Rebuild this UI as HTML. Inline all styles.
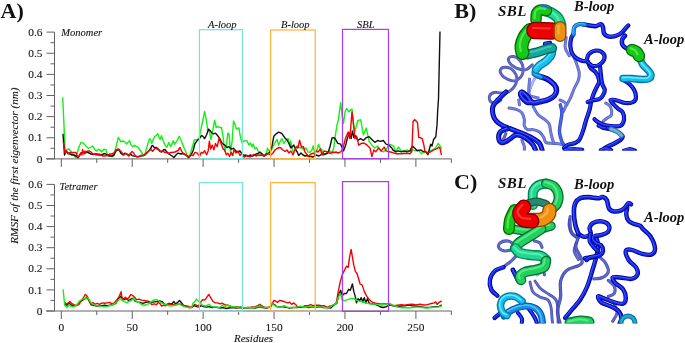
<!DOCTYPE html>
<html><head><meta charset="utf-8"><style>
html,body{margin:0;padding:0;background:#fff;width:685px;height:343px;overflow:hidden}
svg{display:block;will-change:transform}
</style></head><body>
<svg width="685" height="343" viewBox="0 0 685 343">
<rect width="685" height="343" fill="#fff"/>
<defs><clipPath id="clipB"><rect x="470" y="0" width="215" height="150.5"/></clipPath><clipPath id="clipC"><rect x="470" y="170" width="215" height="153.6"/></clipPath></defs><g clip-path="url(#clipB)"><g fill="none" stroke-linecap="round" stroke-linejoin="round" opacity="0.9"><path d="M532.3,64.8 C531.3,65.6 528.4,68.7 526.5,69.5 C524.6,70.3 522.7,69.9 520.7,69.5 C518.8,69.1 516.5,68.2 514.8,67.2 C513.0,66.2 511.3,65.1 510.2,63.7 C509.1,62.3 508.2,60.2 508.4,59.0 C508.6,57.8 510.0,57.0 511.3,56.7 C512.6,56.4 514.5,56.5 516.0,57.2 C517.5,57.9 519.0,59.4 520.1,60.7 C521.2,62.0 521.9,63.3 522.4,64.8 C522.9,66.3 523.0,67.9 523.0,69.5 C523.0,71.1 523.0,72.8 522.4,74.2 C521.8,75.7 520.6,77.1 519.5,78.2 C518.4,79.3 517.4,80.2 516.0,80.6 C514.6,81.0 512.9,80.9 511.3,80.6 C509.8,80.3 508.1,79.6 506.7,78.8 C505.2,78.0 503.7,77.1 502.6,75.9 C501.5,74.7 500.4,73.1 500.2,71.8 C500.0,70.5 500.5,69.1 501.4,68.3 C502.3,67.5 504.0,67.2 505.5,67.2 C507.0,67.2 508.8,67.5 510.2,68.3 C511.6,69.1 513.1,70.4 514.2,71.8 C515.3,73.2 516.2,74.9 516.6,76.5 C517.0,78.1 516.9,79.7 516.6,81.2 C516.3,82.8 515.6,84.5 514.8,85.8 C514.0,87.1 513.2,88.2 511.9,89.3 C510.6,90.4 508.8,91.9 507.0,92.5 C505.2,93.1 503.2,93.0 501.0,93.0 C498.8,93.0 495.9,92.0 494.0,92.5 C492.1,93.0 490.2,94.5 489.6,96.0 C489.0,97.5 489.4,100.3 490.5,101.5 C491.6,102.7 494.2,103.2 496.0,103.0 C497.8,102.8 500.2,100.5 501.0,100.0" stroke="#343ca6" stroke-width="2.9"/><path d="M532.3,64.8 C531.3,65.6 528.4,68.7 526.5,69.5 C524.6,70.3 522.7,69.9 520.7,69.5 C518.8,69.1 516.5,68.2 514.8,67.2 C513.0,66.2 511.3,65.1 510.2,63.7 C509.1,62.3 508.2,60.2 508.4,59.0 C508.6,57.8 510.0,57.0 511.3,56.7 C512.6,56.4 514.5,56.5 516.0,57.2 C517.5,57.9 519.0,59.4 520.1,60.7 C521.2,62.0 521.9,63.3 522.4,64.8 C522.9,66.3 523.0,67.9 523.0,69.5 C523.0,71.1 523.0,72.8 522.4,74.2 C521.8,75.7 520.6,77.1 519.5,78.2 C518.4,79.3 517.4,80.2 516.0,80.6 C514.6,81.0 512.9,80.9 511.3,80.6 C509.8,80.3 508.1,79.6 506.7,78.8 C505.2,78.0 503.7,77.1 502.6,75.9 C501.5,74.7 500.4,73.1 500.2,71.8 C500.0,70.5 500.5,69.1 501.4,68.3 C502.3,67.5 504.0,67.2 505.5,67.2 C507.0,67.2 508.8,67.5 510.2,68.3 C511.6,69.1 513.1,70.4 514.2,71.8 C515.3,73.2 516.2,74.9 516.6,76.5 C517.0,78.1 516.9,79.7 516.6,81.2 C516.3,82.8 515.6,84.5 514.8,85.8 C514.0,87.1 513.2,88.2 511.9,89.3 C510.6,90.4 508.8,91.9 507.0,92.5 C505.2,93.1 503.2,93.0 501.0,93.0 C498.8,93.0 495.9,92.0 494.0,92.5 C492.1,93.0 490.2,94.5 489.6,96.0 C489.0,97.5 489.4,100.3 490.5,101.5 C491.6,102.7 494.2,103.2 496.0,103.0 C497.8,102.8 500.2,100.5 501.0,100.0" stroke="#525cc6" stroke-width="1.6"/></g>
<g fill="none" stroke-linecap="round" stroke-linejoin="round"><path d="M535.0,78.0 C534.5,79.0 533.0,81.7 532.0,84.0 C531.0,86.3 529.5,90.7 529.0,92.0" stroke="#8e98e8" stroke-width="2.8"/><path d="M535.0,78.0 C534.5,79.0 533.0,81.7 532.0,84.0 C531.0,86.3 529.5,90.7 529.0,92.0" stroke="#b4bcf4" stroke-width="1.4"/></g>
<g fill="none" stroke-linecap="round" stroke-linejoin="round"><path d="M529.6,79.0 C529.5,80.7 528.8,86.5 528.8,89.2 C528.8,91.9 528.6,93.7 529.5,95.0 C530.4,96.3 532.5,96.5 534.0,97.0 C535.5,97.5 537.6,97.8 538.3,97.9" stroke="#5660c8" stroke-width="3.0"/><path d="M529.6,79.0 C529.5,80.7 528.8,86.5 528.8,89.2 C528.8,91.9 528.6,93.7 529.5,95.0 C530.4,96.3 532.5,96.5 534.0,97.0 C535.5,97.5 537.6,97.8 538.3,97.9" stroke="#7a84de" stroke-width="1.5"/></g>
<g fill="none" stroke-linecap="round" stroke-linejoin="round"><path d="M509.0,108.0 C510.3,108.3 514.9,108.8 517.0,109.6 C519.1,110.4 520.7,111.2 521.9,112.8 C523.1,114.4 523.9,117.1 524.3,119.2 C524.7,121.3 523.8,123.9 524.3,125.6 C524.8,127.3 526.0,128.9 527.5,129.6 C529.0,130.3 531.1,129.2 533.1,129.6 C535.1,130.0 537.8,130.8 539.5,132.0 C541.2,133.2 542.4,135.2 543.5,136.9 C544.6,138.7 544.4,141.4 545.9,142.5 C547.4,143.6 549.9,143.0 552.3,143.3 C554.7,143.6 558.2,143.7 560.3,144.1 C562.4,144.5 564.2,145.4 565.0,145.7" stroke="#5660c8" stroke-width="3.0"/><path d="M509.0,108.0 C510.3,108.3 514.9,108.8 517.0,109.6 C519.1,110.4 520.7,111.2 521.9,112.8 C523.1,114.4 523.9,117.1 524.3,119.2 C524.7,121.3 523.8,123.9 524.3,125.6 C524.8,127.3 526.0,128.9 527.5,129.6 C529.0,130.3 531.1,129.2 533.1,129.6 C535.1,130.0 537.8,130.8 539.5,132.0 C541.2,133.2 542.4,135.2 543.5,136.9 C544.6,138.7 544.4,141.4 545.9,142.5 C547.4,143.6 549.9,143.0 552.3,143.3 C554.7,143.6 558.2,143.7 560.3,144.1 C562.4,144.5 564.2,145.4 565.0,145.7" stroke="#7a84de" stroke-width="1.5"/></g>
<g fill="none" stroke-linecap="round" stroke-linejoin="round"><path d="M518.7,100.0 L519.5,104.8" stroke="#5660c8" stroke-width="3.0"/><path d="M518.7,100.0 L519.5,104.8" stroke="#7a84de" stroke-width="1.5"/></g>
<g fill="none" stroke-linecap="round" stroke-linejoin="round"><path d="M533.1,106.4 C533.9,107.7 536.0,112.3 537.9,114.4 C539.8,116.5 542.4,117.6 544.3,119.2 C546.2,120.8 548.0,121.9 549.1,124.0 C550.2,126.1 550.2,129.6 550.7,132.0 C551.2,134.4 551.8,136.6 552.3,138.5 C552.8,140.4 553.6,142.5 553.9,143.3" stroke="#5660c8" stroke-width="3.0"/><path d="M533.1,106.4 C533.9,107.7 536.0,112.3 537.9,114.4 C539.8,116.5 542.4,117.6 544.3,119.2 C546.2,120.8 548.0,121.9 549.1,124.0 C550.2,126.1 550.2,129.6 550.7,132.0 C551.2,134.4 551.8,136.6 552.3,138.5 C552.8,140.4 553.6,142.5 553.9,143.3" stroke="#7a84de" stroke-width="1.5"/></g>
<g fill="none" stroke-linecap="round" stroke-linejoin="round"><path d="M521.9,140.1 C522.3,141.2 523.9,144.7 524.3,146.5 C524.7,148.3 524.3,150.2 524.3,151.0" stroke="#5660c8" stroke-width="3.0"/><path d="M521.9,140.1 C522.3,141.2 523.9,144.7 524.3,146.5 C524.7,148.3 524.3,150.2 524.3,151.0" stroke="#7a84de" stroke-width="1.5"/></g>
<g fill="none" stroke-linecap="round" stroke-linejoin="round" opacity="0.9"><path d="M505.8,133.7 L503.4,139.3" stroke="#343ca6" stroke-width="3.1"/><path d="M505.8,133.7 L503.4,139.3" stroke="#525cc6" stroke-width="1.7"/></g>
<g fill="none" stroke-linecap="round" stroke-linejoin="round"><path d="M566.2,37.4 C566.0,39.1 564.7,44.6 565.2,47.7 C565.7,50.8 568.6,54.4 569.3,55.8" stroke="#5660c8" stroke-width="3.0"/><path d="M566.2,37.4 C566.0,39.1 564.7,44.6 565.2,47.7 C565.7,50.8 568.6,54.4 569.3,55.8" stroke="#7a84de" stroke-width="1.5"/></g>
<g fill="none" stroke-linecap="round" stroke-linejoin="round"><path d="M572.6,53.8 C573.2,55.4 575.3,60.1 576.4,63.3 C577.5,66.5 578.9,69.9 579.2,72.7 C579.5,75.5 579.1,77.8 578.3,80.3 C577.5,82.8 575.8,85.1 574.5,87.9 C573.2,90.7 572.0,94.5 570.7,97.3 C569.4,100.1 567.5,103.6 566.9,104.9" stroke="#5660c8" stroke-width="3.0"/><path d="M572.6,53.8 C573.2,55.4 575.3,60.1 576.4,63.3 C577.5,66.5 578.9,69.9 579.2,72.7 C579.5,75.5 579.1,77.8 578.3,80.3 C577.5,82.8 575.8,85.1 574.5,87.9 C573.2,90.7 572.0,94.5 570.7,97.3 C569.4,100.1 567.5,103.6 566.9,104.9" stroke="#7a84de" stroke-width="1.5"/></g>
<g fill="none" stroke-linecap="round" stroke-linejoin="round"><path d="M560.0,100.0 C561.0,100.7 565.5,102.0 566.0,104.0 C566.5,106.0 563.5,110.7 563.0,112.0" stroke="#5660c8" stroke-width="3.0"/><path d="M560.0,100.0 C561.0,100.7 565.5,102.0 566.0,104.0 C566.5,106.0 563.5,110.7 563.0,112.0" stroke="#7a84de" stroke-width="1.5"/></g>
<g fill="none" stroke-linecap="round" stroke-linejoin="round"><path d="M605.7,103.0 C606.5,103.6 609.5,104.8 610.5,106.8 C611.5,108.8 611.9,113.1 611.4,115.0 C610.9,116.9 608.6,117.0 607.3,118.0 C605.9,119.0 604.0,120.5 603.3,121.0" stroke="#5660c8" stroke-width="3.0"/><path d="M605.7,103.0 C606.5,103.6 609.5,104.8 610.5,106.8 C611.5,108.8 611.9,113.1 611.4,115.0 C610.9,116.9 608.6,117.0 607.3,118.0 C605.9,119.0 604.0,120.5 603.3,121.0" stroke="#7a84de" stroke-width="1.5"/></g>
<g fill="none" stroke-linecap="round" stroke-linejoin="round"><path d="M560.3,104.8 C560.6,106.1 561.9,109.6 561.9,112.8 C561.9,116.0 560.7,120.8 560.3,124.0 C559.9,127.2 559.2,129.1 559.5,132.0 C559.8,134.9 561.0,139.4 561.9,141.7 C562.8,144.0 564.5,145.0 565.0,145.7" stroke="#2a40c8" stroke-width="3.4"/><path d="M560.3,104.8 C560.6,106.1 561.9,109.6 561.9,112.8 C561.9,116.0 560.7,120.8 560.3,124.0 C559.9,127.2 559.2,129.1 559.5,132.0 C559.8,134.9 561.0,139.4 561.9,141.7 C562.8,144.0 564.5,145.0 565.0,145.7" stroke="#4a64e8" stroke-width="2.1"/></g>
<g fill="none" stroke-linecap="round" stroke-linejoin="round"><path d="M506.0,92.0 C504.6,93.3 500.0,97.6 497.8,100.0 C495.6,102.4 493.8,104.0 493.0,106.4 C492.2,108.8 492.5,112.0 493.0,114.4 C493.5,116.8 494.6,118.9 496.2,120.8 C497.8,122.7 500.6,124.4 502.6,125.6 C504.6,126.8 505.8,127.0 508.2,128.0 C510.6,128.9 514.2,130.2 517.0,131.3 C519.8,132.4 522.4,133.3 525.1,134.5 C527.8,135.7 530.7,137.0 533.1,138.5 C535.5,140.0 537.9,141.1 539.5,143.3 C541.1,145.6 542.2,150.6 542.7,152.0" stroke="#000096" stroke-width="5.0"/><path d="M506.0,92.0 C504.6,93.3 500.0,97.6 497.8,100.0 C495.6,102.4 493.8,104.0 493.0,106.4 C492.2,108.8 492.5,112.0 493.0,114.4 C493.5,116.8 494.6,118.9 496.2,120.8 C497.8,122.7 500.6,124.4 502.6,125.6 C504.6,126.8 505.8,127.0 508.2,128.0 C510.6,128.9 514.2,130.2 517.0,131.3 C519.8,132.4 522.4,133.3 525.1,134.5 C527.8,135.7 530.7,137.0 533.1,138.5 C535.5,140.0 537.9,141.1 539.5,143.3 C541.1,145.6 542.2,150.6 542.7,152.0" stroke="#1024e4" stroke-width="3.1"/><path d="M506.0,92.0 C504.6,93.3 500.0,97.6 497.8,100.0 C495.6,102.4 493.8,104.0 493.0,106.4 C492.2,108.8 492.5,112.0 493.0,114.4 C493.5,116.8 494.6,118.9 496.2,120.8 C497.8,122.7 500.6,124.4 502.6,125.6 C504.6,126.8 505.8,127.0 508.2,128.0 C510.6,128.9 514.2,130.2 517.0,131.3 C519.8,132.4 522.4,133.3 525.1,134.5 C527.8,135.7 530.7,137.0 533.1,138.5 C535.5,140.0 537.9,141.1 539.5,143.3 C541.1,145.6 542.2,150.6 542.7,152.0" stroke="#5a70ff" stroke-width="1.0" transform="translate(-0.59,-0.69)" opacity="0.8"/></g>
<g fill="none" stroke-linecap="round" stroke-linejoin="round"><path d="M507.4,128.8 C506.3,129.2 502.5,130.0 501.0,131.3 C499.5,132.7 498.6,135.0 498.6,136.9 C498.6,138.8 499.8,141.7 501.0,142.5 C502.2,143.3 504.2,142.4 505.8,141.7 C507.4,141.0 509.0,139.6 510.6,138.5 C512.2,137.4 513.5,135.7 515.4,135.3 C517.3,134.9 519.8,135.3 521.9,136.1 C524.0,136.9 526.4,138.6 528.3,140.1 C530.2,141.6 531.8,142.9 533.1,144.9 C534.4,146.9 535.8,150.8 536.3,152.0" stroke="#000096" stroke-width="5.0"/><path d="M507.4,128.8 C506.3,129.2 502.5,130.0 501.0,131.3 C499.5,132.7 498.6,135.0 498.6,136.9 C498.6,138.8 499.8,141.7 501.0,142.5 C502.2,143.3 504.2,142.4 505.8,141.7 C507.4,141.0 509.0,139.6 510.6,138.5 C512.2,137.4 513.5,135.7 515.4,135.3 C517.3,134.9 519.8,135.3 521.9,136.1 C524.0,136.9 526.4,138.6 528.3,140.1 C530.2,141.6 531.8,142.9 533.1,144.9 C534.4,146.9 535.8,150.8 536.3,152.0" stroke="#1024e4" stroke-width="3.1"/><path d="M507.4,128.8 C506.3,129.2 502.5,130.0 501.0,131.3 C499.5,132.7 498.6,135.0 498.6,136.9 C498.6,138.8 499.8,141.7 501.0,142.5 C502.2,143.3 504.2,142.4 505.8,141.7 C507.4,141.0 509.0,139.6 510.6,138.5 C512.2,137.4 513.5,135.7 515.4,135.3 C517.3,134.9 519.8,135.3 521.9,136.1 C524.0,136.9 526.4,138.6 528.3,140.1 C530.2,141.6 531.8,142.9 533.1,144.9 C534.4,146.9 535.8,150.8 536.3,152.0" stroke="#5a70ff" stroke-width="1.0" transform="translate(-0.59,-0.69)" opacity="0.8"/></g>
<g fill="none" stroke-linecap="round" stroke-linejoin="round"><path d="M538.3,76.0 C539.8,76.5 544.4,77.5 547.1,79.0 C549.8,80.5 552.8,82.9 554.4,84.8 C556.0,86.7 556.5,88.8 556.5,90.6 C556.5,92.4 555.7,94.2 554.4,95.7 C553.1,97.2 550.7,98.4 548.5,99.4 C546.3,100.4 543.6,100.9 541.2,101.5 C538.8,102.1 535.7,103.0 534.0,103.0 C532.3,103.0 532.0,102.5 531.0,101.5 C530.0,100.5 529.1,98.4 528.1,97.2 C527.1,96.0 526.3,95.2 525.2,94.3 C524.1,93.4 522.3,92.0 521.6,92.1 C520.9,92.2 520.4,93.8 520.8,95.0 C521.1,96.2 522.6,98.2 523.7,99.4 C524.8,100.6 525.9,101.8 527.4,102.3 C528.9,102.8 531.6,102.3 532.5,102.3" stroke="#000096" stroke-width="5.5"/><path d="M538.3,76.0 C539.8,76.5 544.4,77.5 547.1,79.0 C549.8,80.5 552.8,82.9 554.4,84.8 C556.0,86.7 556.5,88.8 556.5,90.6 C556.5,92.4 555.7,94.2 554.4,95.7 C553.1,97.2 550.7,98.4 548.5,99.4 C546.3,100.4 543.6,100.9 541.2,101.5 C538.8,102.1 535.7,103.0 534.0,103.0 C532.3,103.0 532.0,102.5 531.0,101.5 C530.0,100.5 529.1,98.4 528.1,97.2 C527.1,96.0 526.3,95.2 525.2,94.3 C524.1,93.4 522.3,92.0 521.6,92.1 C520.9,92.2 520.4,93.8 520.8,95.0 C521.1,96.2 522.6,98.2 523.7,99.4 C524.8,100.6 525.9,101.8 527.4,102.3 C528.9,102.8 531.6,102.3 532.5,102.3" stroke="#1024e4" stroke-width="3.4"/><path d="M538.3,76.0 C539.8,76.5 544.4,77.5 547.1,79.0 C549.8,80.5 552.8,82.9 554.4,84.8 C556.0,86.7 556.5,88.8 556.5,90.6 C556.5,92.4 555.7,94.2 554.4,95.7 C553.1,97.2 550.7,98.4 548.5,99.4 C546.3,100.4 543.6,100.9 541.2,101.5 C538.8,102.1 535.7,103.0 534.0,103.0 C532.3,103.0 532.0,102.5 531.0,101.5 C530.0,100.5 529.1,98.4 528.1,97.2 C527.1,96.0 526.3,95.2 525.2,94.3 C524.1,93.4 522.3,92.0 521.6,92.1 C520.9,92.2 520.4,93.8 520.8,95.0 C521.1,96.2 522.6,98.2 523.7,99.4 C524.8,100.6 525.9,101.8 527.4,102.3 C528.9,102.8 531.6,102.3 532.5,102.3" stroke="#5a70ff" stroke-width="1.1" transform="translate(-0.66,-0.77)" opacity="0.8"/></g>
<g fill="none" stroke-linecap="round" stroke-linejoin="round"><path d="M535.0,69.0 C534.8,69.8 533.5,72.6 534.0,73.8 C534.5,75.0 537.1,75.5 538.3,76.0 C539.5,76.5 540.5,76.8 541.0,77.0" stroke="#0060b0" stroke-width="5.2"/><path d="M535.0,69.0 C534.8,69.8 533.5,72.6 534.0,73.8 C534.5,75.0 537.1,75.5 538.3,76.0 C539.5,76.5 540.5,76.8 541.0,77.0" stroke="#1a90e8" stroke-width="3.2"/><path d="M535.0,69.0 C534.8,69.8 533.5,72.6 534.0,73.8 C534.5,75.0 537.1,75.5 538.3,76.0 C539.5,76.5 540.5,76.8 541.0,77.0" stroke="#70c8ff" stroke-width="1.0" transform="translate(-0.62,-0.73)" opacity="0.8"/></g>
<g fill="none" stroke-linecap="round" stroke-linejoin="round"><path d="M587.7,61.4 C588.2,62.5 589.3,66.3 590.6,68.0 C591.9,69.7 594.0,70.4 595.3,71.8 C596.5,73.2 597.5,74.8 598.1,76.5 C598.7,78.2 599.4,80.3 599.1,82.2 C598.8,84.1 597.2,85.9 596.3,87.9 C595.3,90.0 594.2,92.3 593.4,94.5 C592.6,96.7 591.9,98.5 591.3,101.0 C590.7,103.5 590.4,106.6 589.6,109.6 C588.8,112.6 587.5,115.7 586.4,119.2 C585.3,122.7 584.4,126.9 583.2,130.4 C582.0,133.9 580.7,137.8 579.2,140.0 C577.7,142.2 576.3,142.5 574.4,143.3 C572.5,144.1 569.7,144.1 568.0,144.9 C566.3,145.7 564.7,147.5 564.0,148.0" stroke="#000096" stroke-width="4.2"/><path d="M587.7,61.4 C588.2,62.5 589.3,66.3 590.6,68.0 C591.9,69.7 594.0,70.4 595.3,71.8 C596.5,73.2 597.5,74.8 598.1,76.5 C598.7,78.2 599.4,80.3 599.1,82.2 C598.8,84.1 597.2,85.9 596.3,87.9 C595.3,90.0 594.2,92.3 593.4,94.5 C592.6,96.7 591.9,98.5 591.3,101.0 C590.7,103.5 590.4,106.6 589.6,109.6 C588.8,112.6 587.5,115.7 586.4,119.2 C585.3,122.7 584.4,126.9 583.2,130.4 C582.0,133.9 580.7,137.8 579.2,140.0 C577.7,142.2 576.3,142.5 574.4,143.3 C572.5,144.1 569.7,144.1 568.0,144.9 C566.3,145.7 564.7,147.5 564.0,148.0" stroke="#1024e4" stroke-width="2.6"/><path d="M587.7,61.4 C588.2,62.5 589.3,66.3 590.6,68.0 C591.9,69.7 594.0,70.4 595.3,71.8 C596.5,73.2 597.5,74.8 598.1,76.5 C598.7,78.2 599.4,80.3 599.1,82.2 C598.8,84.1 597.2,85.9 596.3,87.9 C595.3,90.0 594.2,92.3 593.4,94.5 C592.6,96.7 591.9,98.5 591.3,101.0 C590.7,103.5 590.4,106.6 589.6,109.6 C588.8,112.6 587.5,115.7 586.4,119.2 C585.3,122.7 584.4,126.9 583.2,130.4 C582.0,133.9 580.7,137.8 579.2,140.0 C577.7,142.2 576.3,142.5 574.4,143.3 C572.5,144.1 569.7,144.1 568.0,144.9 C566.3,145.7 564.7,147.5 564.0,148.0" stroke="#5a70ff" stroke-width="0.8" transform="translate(-0.50,-0.59)" opacity="0.8"/></g>
<g fill="none" stroke-linecap="round" stroke-linejoin="round"><path d="M600.0,66.0 C600.3,68.8 601.2,79.0 602.0,83.0 C602.8,87.0 604.6,87.7 604.8,89.8 C604.9,91.9 603.8,93.9 602.9,95.5 C602.0,97.1 600.7,98.4 599.1,99.2 C597.5,100.0 595.3,99.7 593.4,100.2 C591.5,100.7 588.7,101.7 587.7,102.0" stroke="#000096" stroke-width="4.2"/><path d="M600.0,66.0 C600.3,68.8 601.2,79.0 602.0,83.0 C602.8,87.0 604.6,87.7 604.8,89.8 C604.9,91.9 603.8,93.9 602.9,95.5 C602.0,97.1 600.7,98.4 599.1,99.2 C597.5,100.0 595.3,99.7 593.4,100.2 C591.5,100.7 588.7,101.7 587.7,102.0" stroke="#1024e4" stroke-width="2.6"/><path d="M600.0,66.0 C600.3,68.8 601.2,79.0 602.0,83.0 C602.8,87.0 604.6,87.7 604.8,89.8 C604.9,91.9 603.8,93.9 602.9,95.5 C602.0,97.1 600.7,98.4 599.1,99.2 C597.5,100.0 595.3,99.7 593.4,100.2 C591.5,100.7 588.7,101.7 587.7,102.0" stroke="#5a70ff" stroke-width="0.8" transform="translate(-0.50,-0.59)" opacity="0.8"/></g>
<g fill="none" stroke-linecap="round" stroke-linejoin="round"><path d="M573.4,34.4 C573.0,35.0 571.8,36.1 571.3,38.0 C570.8,39.9 570.1,43.0 570.3,45.6 C570.5,48.2 571.1,51.6 572.3,53.8 C573.5,56.0 575.2,57.7 577.4,58.9 C579.6,60.1 583.7,61.8 585.6,61.0 C587.5,60.2 587.1,55.8 589.0,54.0 C590.9,52.2 594.4,50.5 596.8,50.5 C599.2,50.5 602.3,52.2 603.5,53.8 C604.7,55.4 604.8,58.0 604.0,59.9 C603.2,61.8 600.8,64.0 598.9,65.0 C597.0,66.0 594.7,66.5 592.8,66.0 C590.9,65.5 588.6,62.7 587.7,62.0" stroke="#000096" stroke-width="4.2"/><path d="M573.4,34.4 C573.0,35.0 571.8,36.1 571.3,38.0 C570.8,39.9 570.1,43.0 570.3,45.6 C570.5,48.2 571.1,51.6 572.3,53.8 C573.5,56.0 575.2,57.7 577.4,58.9 C579.6,60.1 583.7,61.8 585.6,61.0 C587.5,60.2 587.1,55.8 589.0,54.0 C590.9,52.2 594.4,50.5 596.8,50.5 C599.2,50.5 602.3,52.2 603.5,53.8 C604.7,55.4 604.8,58.0 604.0,59.9 C603.2,61.8 600.8,64.0 598.9,65.0 C597.0,66.0 594.7,66.5 592.8,66.0 C590.9,65.5 588.6,62.7 587.7,62.0" stroke="#1024e4" stroke-width="2.6"/><path d="M573.4,34.4 C573.0,35.0 571.8,36.1 571.3,38.0 C570.8,39.9 570.1,43.0 570.3,45.6 C570.5,48.2 571.1,51.6 572.3,53.8 C573.5,56.0 575.2,57.7 577.4,58.9 C579.6,60.1 583.7,61.8 585.6,61.0 C587.5,60.2 587.1,55.8 589.0,54.0 C590.9,52.2 594.4,50.5 596.8,50.5 C599.2,50.5 602.3,52.2 603.5,53.8 C604.7,55.4 604.8,58.0 604.0,59.9 C603.2,61.8 600.8,64.0 598.9,65.0 C597.0,66.0 594.7,66.5 592.8,66.0 C590.9,65.5 588.6,62.7 587.7,62.0" stroke="#5a70ff" stroke-width="0.8" transform="translate(-0.50,-0.59)" opacity="0.8"/></g>
<g fill="none" stroke-linecap="round" stroke-linejoin="round"><path d="M623.7,80.3 C624.7,80.9 627.7,82.4 629.4,84.0 C631.1,85.6 633.0,87.6 634.1,89.8 C635.2,92.0 636.1,95.3 636.0,97.3 C635.9,99.3 634.9,101.0 633.2,102.0 C631.5,103.0 628.5,103.3 625.6,103.0 C622.8,102.7 618.6,100.7 616.1,100.2 C613.6,99.7 611.0,99.6 610.5,100.2 C610.0,100.8 612.0,102.6 613.3,104.0 C614.5,105.4 616.5,107.4 618.0,108.7 C619.5,110.0 621.5,110.2 622.5,112.0 C623.5,113.8 624.4,116.9 624.1,119.2 C623.8,121.5 622.5,124.4 620.9,125.6 C619.3,126.8 616.9,126.4 614.5,126.4 C612.1,126.4 609.2,126.3 606.5,125.6 C603.8,124.9 600.5,123.5 598.5,122.4 C596.5,121.3 595.2,119.7 594.5,119.2" stroke="#000096" stroke-width="4.2"/><path d="M623.7,80.3 C624.7,80.9 627.7,82.4 629.4,84.0 C631.1,85.6 633.0,87.6 634.1,89.8 C635.2,92.0 636.1,95.3 636.0,97.3 C635.9,99.3 634.9,101.0 633.2,102.0 C631.5,103.0 628.5,103.3 625.6,103.0 C622.8,102.7 618.6,100.7 616.1,100.2 C613.6,99.7 611.0,99.6 610.5,100.2 C610.0,100.8 612.0,102.6 613.3,104.0 C614.5,105.4 616.5,107.4 618.0,108.7 C619.5,110.0 621.5,110.2 622.5,112.0 C623.5,113.8 624.4,116.9 624.1,119.2 C623.8,121.5 622.5,124.4 620.9,125.6 C619.3,126.8 616.9,126.4 614.5,126.4 C612.1,126.4 609.2,126.3 606.5,125.6 C603.8,124.9 600.5,123.5 598.5,122.4 C596.5,121.3 595.2,119.7 594.5,119.2" stroke="#1024e4" stroke-width="2.6"/><path d="M623.7,80.3 C624.7,80.9 627.7,82.4 629.4,84.0 C631.1,85.6 633.0,87.6 634.1,89.8 C635.2,92.0 636.1,95.3 636.0,97.3 C635.9,99.3 634.9,101.0 633.2,102.0 C631.5,103.0 628.5,103.3 625.6,103.0 C622.8,102.7 618.6,100.7 616.1,100.2 C613.6,99.7 611.0,99.6 610.5,100.2 C610.0,100.8 612.0,102.6 613.3,104.0 C614.5,105.4 616.5,107.4 618.0,108.7 C619.5,110.0 621.5,110.2 622.5,112.0 C623.5,113.8 624.4,116.9 624.1,119.2 C623.8,121.5 622.5,124.4 620.9,125.6 C619.3,126.8 616.9,126.4 614.5,126.4 C612.1,126.4 609.2,126.3 606.5,125.6 C603.8,124.9 600.5,123.5 598.5,122.4 C596.5,121.3 595.2,119.7 594.5,119.2" stroke="#5a70ff" stroke-width="0.8" transform="translate(-0.50,-0.59)" opacity="0.8"/></g>
<g fill="none" stroke-linecap="round" stroke-linejoin="round"><path d="M598.5,125.6 C599.3,126.0 601.7,127.5 603.3,128.0 C604.9,128.5 607.2,128.4 608.0,128.5" stroke="#000096" stroke-width="4.0"/><path d="M598.5,125.6 C599.3,126.0 601.7,127.5 603.3,128.0 C604.9,128.5 607.2,128.4 608.0,128.5" stroke="#1024e4" stroke-width="2.5"/><path d="M598.5,125.6 C599.3,126.0 601.7,127.5 603.3,128.0 C604.9,128.5 607.2,128.4 608.0,128.5" stroke="#5a70ff" stroke-width="0.8" transform="translate(-0.48,-0.55)" opacity="0.8"/></g>
<g fill="none" stroke-linecap="round" stroke-linejoin="round"><path d="M608.0,128.5 C609.3,128.9 613.6,129.7 616.0,131.0 C618.4,132.3 622.2,134.7 622.5,136.5 C622.8,138.3 619.6,140.3 617.7,141.7 C615.8,143.1 613.4,143.8 611.3,144.9 C609.2,146.0 606.0,147.5 604.9,148.0" stroke="#000096" stroke-width="4.6"/><path d="M608.0,128.5 C609.3,128.9 613.6,129.7 616.0,131.0 C618.4,132.3 622.2,134.7 622.5,136.5 C622.8,138.3 619.6,140.3 617.7,141.7 C615.8,143.1 613.4,143.8 611.3,144.9 C609.2,146.0 606.0,147.5 604.9,148.0" stroke="#1024e4" stroke-width="2.9"/><path d="M608.0,128.5 C609.3,128.9 613.6,129.7 616.0,131.0 C618.4,132.3 622.2,134.7 622.5,136.5 C622.8,138.3 619.6,140.3 617.7,141.7 C615.8,143.1 613.4,143.8 611.3,144.9 C609.2,146.0 606.0,147.5 604.9,148.0" stroke="#5a70ff" stroke-width="0.9" transform="translate(-0.55,-0.65)" opacity="0.8"/></g>
<g fill="none" stroke-linecap="round" stroke-linejoin="round"><path d="M611.0,129.0 C612.0,129.4 615.2,130.4 617.0,131.5 C618.8,132.6 620.8,134.8 621.5,135.5" stroke="#3a70a0" stroke-width="4.8"/><path d="M611.0,129.0 C612.0,129.4 615.2,130.4 617.0,131.5 C618.8,132.6 620.8,134.8 621.5,135.5" stroke="#6ab0d8" stroke-width="3.0"/></g>
<g fill="none" stroke-linecap="round" stroke-linejoin="round"><path d="M565.0,150.0 C566.5,149.9 571.2,149.3 574.0,149.3 C576.8,149.3 580.7,149.9 582.0,150.0" stroke="#000090" stroke-width="4.6"/><path d="M565.0,150.0 C566.5,149.9 571.2,149.3 574.0,149.3 C576.8,149.3 580.7,149.9 582.0,150.0" stroke="#1428e0" stroke-width="2.9"/><path d="M565.0,150.0 C566.5,149.9 571.2,149.3 574.0,149.3 C576.8,149.3 580.7,149.9 582.0,150.0" stroke="#5a78ff" stroke-width="0.9" transform="translate(-0.55,-0.65)" opacity="0.8"/></g>
<g fill="none" stroke-linecap="round" stroke-linejoin="round"><path d="M601.0,150.5 C601.8,150.2 604.3,148.5 606.0,148.5 C607.7,148.5 610.2,150.2 611.0,150.5" stroke="#000090" stroke-width="4.6"/><path d="M601.0,150.5 C601.8,150.2 604.3,148.5 606.0,148.5 C607.7,148.5 610.2,150.2 611.0,150.5" stroke="#1428e0" stroke-width="2.9"/><path d="M601.0,150.5 C601.8,150.2 604.3,148.5 606.0,148.5 C607.7,148.5 610.2,150.2 611.0,150.5" stroke="#5a78ff" stroke-width="0.9" transform="translate(-0.55,-0.65)" opacity="0.8"/></g>
<g fill="none" stroke-linecap="round" stroke-linejoin="round"><path d="M624.0,151.0 C625.0,150.7 628.2,149.2 630.0,149.2 C631.8,149.2 634.2,150.7 635.0,151.0" stroke="#000090" stroke-width="4.6"/><path d="M624.0,151.0 C625.0,150.7 628.2,149.2 630.0,149.2 C631.8,149.2 634.2,150.7 635.0,151.0" stroke="#1428e0" stroke-width="2.9"/><path d="M624.0,151.0 C625.0,150.7 628.2,149.2 630.0,149.2 C631.8,149.2 634.2,150.7 635.0,151.0" stroke="#5a78ff" stroke-width="0.9" transform="translate(-0.55,-0.65)" opacity="0.8"/></g>
<g fill="none" stroke-linecap="round" stroke-linejoin="round"><path d="M584.0,24.5 C584.6,24.6 585.7,24.9 587.7,25.2 C589.7,25.5 593.6,26.4 595.8,26.2 C598.0,26.0 599.7,24.0 600.9,24.2 C602.1,24.4 602.5,25.7 603.0,27.2 C603.5,28.7 603.2,31.9 604.0,33.4 C604.8,34.9 606.3,35.9 608.0,36.4 C609.7,36.9 612.3,36.7 614.2,36.4 C616.1,36.1 617.9,35.1 619.3,34.4 C620.6,33.7 621.3,33.3 622.3,32.3 C623.3,31.3 624.5,29.6 625.5,28.5 C626.5,27.4 627.8,26.0 628.3,25.5" stroke="#000096" stroke-width="4.4"/><path d="M584.0,24.5 C584.6,24.6 585.7,24.9 587.7,25.2 C589.7,25.5 593.6,26.4 595.8,26.2 C598.0,26.0 599.7,24.0 600.9,24.2 C602.1,24.4 602.5,25.7 603.0,27.2 C603.5,28.7 603.2,31.9 604.0,33.4 C604.8,34.9 606.3,35.9 608.0,36.4 C609.7,36.9 612.3,36.7 614.2,36.4 C616.1,36.1 617.9,35.1 619.3,34.4 C620.6,33.7 621.3,33.3 622.3,32.3 C623.3,31.3 624.5,29.6 625.5,28.5 C626.5,27.4 627.8,26.0 628.3,25.5" stroke="#1024e4" stroke-width="2.7"/><path d="M584.0,24.5 C584.6,24.6 585.7,24.9 587.7,25.2 C589.7,25.5 593.6,26.4 595.8,26.2 C598.0,26.0 599.7,24.0 600.9,24.2 C602.1,24.4 602.5,25.7 603.0,27.2 C603.5,28.7 603.2,31.9 604.0,33.4 C604.8,34.9 606.3,35.9 608.0,36.4 C609.7,36.9 612.3,36.7 614.2,36.4 C616.1,36.1 617.9,35.1 619.3,34.4 C620.6,33.7 621.3,33.3 622.3,32.3 C623.3,31.3 624.5,29.6 625.5,28.5 C626.5,27.4 627.8,26.0 628.3,25.5" stroke="#5a70ff" stroke-width="0.9" transform="translate(-0.53,-0.62)" opacity="0.8"/></g>
<g fill="none" stroke-linecap="round" stroke-linejoin="round"><path d="M573.4,34.4 C573.6,33.2 573.4,28.9 574.4,27.2 C575.4,25.5 577.7,24.6 579.5,24.2 C581.3,23.8 584.1,24.5 585.0,24.6" stroke="#0060b0" stroke-width="4.4"/><path d="M573.4,34.4 C573.6,33.2 573.4,28.9 574.4,27.2 C575.4,25.5 577.7,24.6 579.5,24.2 C581.3,23.8 584.1,24.5 585.0,24.6" stroke="#1a90e8" stroke-width="2.7"/><path d="M573.4,34.4 C573.6,33.2 573.4,28.9 574.4,27.2 C575.4,25.5 577.7,24.6 579.5,24.2 C581.3,23.8 584.1,24.5 585.0,24.6" stroke="#70c8ff" stroke-width="0.9" transform="translate(-0.53,-0.62)" opacity="0.8"/></g>
<g fill="none" stroke-linecap="round" stroke-linejoin="round"><path d="M625.0,35.7 C624.5,36.3 622.8,37.7 622.3,39.2 C621.8,40.7 621.7,43.0 622.3,44.5 C622.9,46.0 624.3,47.2 625.8,48.0 C627.2,48.8 630.1,49.2 631.0,49.5" stroke="#000096" stroke-width="4.6"/><path d="M625.0,35.7 C624.5,36.3 622.8,37.7 622.3,39.2 C621.8,40.7 621.7,43.0 622.3,44.5 C622.9,46.0 624.3,47.2 625.8,48.0 C627.2,48.8 630.1,49.2 631.0,49.5" stroke="#1024e4" stroke-width="2.9"/><path d="M625.0,35.7 C624.5,36.3 622.8,37.7 622.3,39.2 C621.8,40.7 621.7,43.0 622.3,44.5 C622.9,46.0 624.3,47.2 625.8,48.0 C627.2,48.8 630.1,49.2 631.0,49.5" stroke="#5a70ff" stroke-width="0.9" transform="translate(-0.55,-0.65)" opacity="0.8"/></g>
<g fill="none" stroke-linecap="round" stroke-linejoin="round"><path d="M641.0,61.0 C641.3,61.7 641.9,63.5 643.0,65.0 C644.1,66.5 646.4,68.2 647.7,69.8 C649.0,71.4 650.8,73.0 651.0,74.5 C651.2,76.0 650.4,77.8 649.0,78.6 C647.6,79.4 645.2,79.4 642.4,79.4 C639.6,79.4 635.2,78.7 632.0,78.5 C628.8,78.3 624.5,78.5 623.0,78.5" stroke="#0078a8" stroke-width="7.5"/><path d="M641.0,61.0 C641.3,61.7 641.9,63.5 643.0,65.0 C644.1,66.5 646.4,68.2 647.7,69.8 C649.0,71.4 650.8,73.0 651.0,74.5 C651.2,76.0 650.4,77.8 649.0,78.6 C647.6,79.4 645.2,79.4 642.4,79.4 C639.6,79.4 635.2,78.7 632.0,78.5 C628.8,78.3 624.5,78.5 623.0,78.5" stroke="#18c0ec" stroke-width="4.9"/><path d="M641.0,61.0 C641.3,61.7 641.9,63.5 643.0,65.0 C644.1,66.5 646.4,68.2 647.7,69.8 C649.0,71.4 650.8,73.0 651.0,74.5 C651.2,76.0 650.4,77.8 649.0,78.6 C647.6,79.4 645.2,79.4 642.4,79.4 C639.6,79.4 635.2,78.7 632.0,78.5 C628.8,78.3 624.5,78.5 623.0,78.5" stroke="#8cf0ff" stroke-width="1.5" transform="translate(-0.90,-1.05)" opacity="0.8"/></g>
<g fill="none" stroke-linecap="round" stroke-linejoin="round"><path d="M632.0,50.0 C632.8,50.3 635.3,51.0 636.5,52.0 C637.7,53.0 638.6,55.3 639.0,56.0" stroke="#006a00" stroke-width="12.5"/><path d="M632.0,50.0 C632.8,50.3 635.3,51.0 636.5,52.0 C637.7,53.0 638.6,55.3 639.0,56.0" stroke="#18c818" stroke-width="9.9"/><path d="M632.0,50.0 C632.8,50.3 635.3,51.0 636.5,52.0 C637.7,53.0 638.6,55.3 639.0,56.0" stroke="#8cff8c" stroke-width="2.2" transform="translate(-1.50,-1.75)" opacity="0.5"/></g>
<g fill="none" stroke-linecap="round" stroke-linejoin="round"><path d="M545.0,44.0 L550.0,43.0" stroke="#000096" stroke-width="4.4"/><path d="M545.0,44.0 L550.0,43.0" stroke="#1024e4" stroke-width="2.7"/><path d="M545.0,44.0 L550.0,43.0" stroke="#5a70ff" stroke-width="0.9" transform="translate(-0.53,-0.62)" opacity="0.8"/></g>
<g fill="none" stroke-linecap="round" stroke-linejoin="round"><path d="M552.5,48.5 C552.2,49.7 552.2,53.3 551.0,55.5 C549.8,57.7 547.4,59.8 545.5,61.5 C543.6,63.2 541.1,64.2 539.5,65.5 C537.9,66.8 536.6,68.8 536.0,69.5" stroke="#0078a8" stroke-width="8.5"/><path d="M552.5,48.5 C552.2,49.7 552.2,53.3 551.0,55.5 C549.8,57.7 547.4,59.8 545.5,61.5 C543.6,63.2 541.1,64.2 539.5,65.5 C537.9,66.8 536.6,68.8 536.0,69.5" stroke="#18c0ec" stroke-width="5.9"/><path d="M552.5,48.5 C552.2,49.7 552.2,53.3 551.0,55.5 C549.8,57.7 547.4,59.8 545.5,61.5 C543.6,63.2 541.1,64.2 539.5,65.5 C537.9,66.8 536.6,68.8 536.0,69.5" stroke="#8cf0ff" stroke-width="1.7" transform="translate(-1.02,-1.19)" opacity="0.5"/></g>
<g fill="none" stroke-linecap="round" stroke-linejoin="round"><path d="M527.0,54.5 C528.8,54.1 534.7,52.9 538.0,52.0 C541.3,51.1 544.7,49.7 547.0,49.0 C549.3,48.3 551.2,48.2 552.0,48.0" stroke="#006a62" stroke-width="10.0"/><path d="M527.0,54.5 C528.8,54.1 534.7,52.9 538.0,52.0 C541.3,51.1 544.7,49.7 547.0,49.0 C549.3,48.3 551.2,48.2 552.0,48.0" stroke="#14a898" stroke-width="7.4"/><path d="M527.0,54.5 C528.8,54.1 534.7,52.9 538.0,52.0 C541.3,51.1 544.7,49.7 547.0,49.0 C549.3,48.3 551.2,48.2 552.0,48.0" stroke="#70e0d0" stroke-width="2.0" transform="translate(-1.20,-1.40)" opacity="0.5"/></g>
<g fill="none" stroke-linecap="round" stroke-linejoin="round"><path d="M530.0,30.0 C529.1,31.2 525.9,34.3 524.5,37.0 C523.1,39.7 521.8,43.3 521.5,46.0 C521.2,48.7 522.3,51.8 522.5,53.0" stroke="#006a00" stroke-width="14.0"/><path d="M530.0,30.0 C529.1,31.2 525.9,34.3 524.5,37.0 C523.1,39.7 521.8,43.3 521.5,46.0 C521.2,48.7 522.3,51.8 522.5,53.0" stroke="#18c818" stroke-width="11.4"/><path d="M530.0,30.0 C529.1,31.2 525.9,34.3 524.5,37.0 C523.1,39.7 521.8,43.3 521.5,46.0 C521.2,48.7 522.3,51.8 522.5,53.0" stroke="#8cff8c" stroke-width="2.2" transform="translate(-1.68,-1.96)" opacity="0.5"/></g>
<g fill="none" stroke-linecap="round" stroke-linejoin="round"><path d="M546.0,11.0 C547.1,11.4 550.5,12.3 552.5,13.5 C554.5,14.7 556.6,16.1 558.0,18.0 C559.4,19.9 560.5,23.8 561.0,25.0" stroke="#008050" stroke-width="11.0"/><path d="M546.0,11.0 C547.1,11.4 550.5,12.3 552.5,13.5 C554.5,14.7 556.6,16.1 558.0,18.0 C559.4,19.9 560.5,23.8 561.0,25.0" stroke="#20d890" stroke-width="8.4"/><path d="M546.0,11.0 C547.1,11.4 550.5,12.3 552.5,13.5 C554.5,14.7 556.6,16.1 558.0,18.0 C559.4,19.9 560.5,23.8 561.0,25.0" stroke="#90ffd0" stroke-width="2.2" transform="translate(-1.32,-1.54)" opacity="0.5"/></g>
<g fill="none" stroke-linecap="round" stroke-linejoin="round"><path d="M536.0,20.0 C536.1,18.9 535.8,15.2 536.5,13.5 C537.2,11.8 538.8,10.5 540.5,10.0 C542.2,9.5 545.5,10.4 546.5,10.5" stroke="#006a00" stroke-width="11.5"/><path d="M536.0,20.0 C536.1,18.9 535.8,15.2 536.5,13.5 C537.2,11.8 538.8,10.5 540.5,10.0 C542.2,9.5 545.5,10.4 546.5,10.5" stroke="#18c818" stroke-width="8.9"/><path d="M536.0,20.0 C536.1,18.9 535.8,15.2 536.5,13.5 C537.2,11.8 538.8,10.5 540.5,10.0 C542.2,9.5 545.5,10.4 546.5,10.5" stroke="#8cff8c" stroke-width="2.2" transform="translate(-1.38,-1.61)" opacity="0.5"/></g>
<path d="M542,5.5 Q546,5.2 549,7.5" stroke="#2070c8" stroke-width="3" fill="none" stroke-linecap="round" opacity="0.9"/>
<g fill="none" stroke-linecap="round" stroke-linejoin="round"><path d="M535.0,30.5 L552.0,31.0" stroke="#7a0000" stroke-width="17.7"/><path d="M535.0,30.5 L552.0,31.0" stroke="#ee0000" stroke-width="15.1"/><path d="M535.0,30.5 L552.0,31.0" stroke="#ff7070" stroke-width="2.2" transform="translate(-2.12,-2.48)" opacity="0.5"/></g>
<g fill="none" stroke-linecap="round" stroke-linejoin="round"><path d="M560.0,27.5 L560.0,35.5" stroke="#8a4a00" stroke-width="13.0"/><path d="M560.0,27.5 L560.0,35.5" stroke="#ee9010" stroke-width="10.4"/><path d="M560.0,27.5 L560.0,35.5" stroke="#ffd080" stroke-width="2.2" transform="translate(-1.56,-1.82)" opacity="0.5"/></g></g>
<g clip-path="url(#clipC)"><g fill="none" stroke-linecap="round" stroke-linejoin="round" opacity="0.9"><path d="M514.7,245.0 C513.6,244.3 510.4,241.3 508.0,241.0 C505.6,240.7 501.5,241.8 500.0,243.0 C498.5,244.2 498.2,246.7 499.0,248.0 C499.8,249.3 502.5,250.8 505.0,251.0 C507.5,251.2 512.5,249.3 514.0,249.0" stroke="#343ca6" stroke-width="3.1"/><path d="M514.7,245.0 C513.6,244.3 510.4,241.3 508.0,241.0 C505.6,240.7 501.5,241.8 500.0,243.0 C498.5,244.2 498.2,246.7 499.0,248.0 C499.8,249.3 502.5,250.8 505.0,251.0 C507.5,251.2 512.5,249.3 514.0,249.0" stroke="#525cc6" stroke-width="1.7"/></g>
<g fill="none" stroke-linecap="round" stroke-linejoin="round" opacity="0.9"><path d="M534.5,241.0 C535.4,241.3 538.8,241.9 540.0,243.0 C541.2,244.1 541.7,246.7 542.0,247.4" stroke="#343ca6" stroke-width="3.1"/><path d="M534.5,241.0 C535.4,241.3 538.8,241.9 540.0,243.0 C541.2,244.1 541.7,246.7 542.0,247.4" stroke="#525cc6" stroke-width="1.7"/></g>
<g fill="none" stroke-linecap="round" stroke-linejoin="round" opacity="0.9"><path d="M538.0,269.7 C538.8,269.9 541.9,270.2 543.0,271.0 C544.1,271.8 544.2,274.1 544.4,274.7" stroke="#343ca6" stroke-width="3.1"/><path d="M538.0,269.7 C538.8,269.9 541.9,270.2 543.0,271.0 C544.1,271.8 544.2,274.1 544.4,274.7" stroke="#525cc6" stroke-width="1.7"/></g>
<g fill="none" stroke-linecap="round" stroke-linejoin="round"><path d="M537.0,275.0 L543.0,271.0" stroke="#8e98e8" stroke-width="2.8"/><path d="M537.0,275.0 L543.0,271.0" stroke="#b4bcf4" stroke-width="1.4"/></g>
<g fill="none" stroke-linecap="round" stroke-linejoin="round" opacity="0.9"><path d="M530.0,282.0 C530.5,283.7 531.3,289.5 533.0,292.0 C534.7,294.5 537.5,295.7 540.0,297.0 C542.5,298.3 546.2,298.3 548.0,300.0 C549.8,301.7 550.3,304.0 551.0,307.0 C551.7,310.0 551.7,315.0 552.0,318.0 C552.3,321.0 552.8,323.8 553.0,325.0" stroke="#343ca6" stroke-width="2.8"/><path d="M530.0,282.0 C530.5,283.7 531.3,289.5 533.0,292.0 C534.7,294.5 537.5,295.7 540.0,297.0 C542.5,298.3 546.2,298.3 548.0,300.0 C549.8,301.7 550.3,304.0 551.0,307.0 C551.7,310.0 551.7,315.0 552.0,318.0 C552.3,321.0 552.8,323.8 553.0,325.0" stroke="#525cc6" stroke-width="1.5"/></g>
<g fill="none" stroke-linecap="round" stroke-linejoin="round" opacity="0.9"><path d="M535.0,281.0 C536.0,282.3 538.5,286.7 541.0,289.0 C543.5,291.3 547.5,293.2 550.0,295.0 C552.5,296.8 554.7,297.5 556.0,300.0 C557.3,302.5 557.7,305.8 558.0,310.0 C558.3,314.2 558.0,322.5 558.0,325.0" stroke="#343ca6" stroke-width="2.8"/><path d="M535.0,281.0 C536.0,282.3 538.5,286.7 541.0,289.0 C543.5,291.3 547.5,293.2 550.0,295.0 C552.5,296.8 554.7,297.5 556.0,300.0 C557.3,302.5 557.7,305.8 558.0,310.0 C558.3,314.2 558.0,322.5 558.0,325.0" stroke="#525cc6" stroke-width="1.5"/></g>
<g fill="none" stroke-linecap="round" stroke-linejoin="round" opacity="0.9"><path d="M517.2,254.9 C516.0,256.1 512.2,260.3 509.8,262.3 C507.4,264.3 504.1,266.2 503.0,267.0" stroke="#343ca6" stroke-width="3.1"/><path d="M517.2,254.9 C516.0,256.1 512.2,260.3 509.8,262.3 C507.4,264.3 504.1,266.2 503.0,267.0" stroke="#525cc6" stroke-width="1.7"/></g>
<g fill="none" stroke-linecap="round" stroke-linejoin="round" opacity="0.9"><path d="M570.2,216.5 C570.0,218.0 568.9,222.8 569.2,225.7 C569.5,228.6 570.7,231.8 572.2,233.9 C573.7,236.0 577.4,237.3 578.4,238.0" stroke="#343ca6" stroke-width="3.1"/><path d="M570.2,216.5 C570.0,218.0 568.9,222.8 569.2,225.7 C569.5,228.6 570.7,231.8 572.2,233.9 C573.7,236.0 577.4,237.3 578.4,238.0" stroke="#525cc6" stroke-width="1.7"/></g>
<g fill="none" stroke-linecap="round" stroke-linejoin="round" opacity="0.9"><path d="M576.3,243.1 C576.0,244.4 573.9,248.5 574.3,251.2 C574.6,253.9 577.7,258.0 578.4,259.4" stroke="#343ca6" stroke-width="3.1"/><path d="M576.3,243.1 C576.0,244.4 573.9,248.5 574.3,251.2 C574.6,253.9 577.7,258.0 578.4,259.4" stroke="#525cc6" stroke-width="1.7"/></g>
<g fill="none" stroke-linecap="round" stroke-linejoin="round" opacity="0.9"><path d="M599.6,257.1 C600.6,258.1 604.0,260.5 605.4,262.9 C606.8,265.3 608.8,269.2 608.3,271.6 C607.8,274.0 604.9,276.3 602.5,277.5 C600.1,278.7 595.2,278.7 593.7,278.9" stroke="#343ca6" stroke-width="3.1"/><path d="M599.6,257.1 C600.6,258.1 604.0,260.5 605.4,262.9 C606.8,265.3 608.8,269.2 608.3,271.6 C607.8,274.0 604.9,276.3 602.5,277.5 C600.1,278.7 595.2,278.7 593.7,278.9" stroke="#525cc6" stroke-width="1.7"/></g>
<g fill="none" stroke-linecap="round" stroke-linejoin="round" opacity="0.9"><path d="M608.3,280.4 C609.3,281.4 613.2,284.0 614.2,286.2 C615.2,288.4 615.2,291.8 614.2,293.5 C613.2,295.2 609.3,295.9 608.3,296.4" stroke="#343ca6" stroke-width="3.1"/><path d="M608.3,280.4 C609.3,281.4 613.2,284.0 614.2,286.2 C615.2,288.4 615.2,291.8 614.2,293.5 C613.2,295.2 609.3,295.9 608.3,296.4" stroke="#525cc6" stroke-width="1.7"/></g>
<g fill="none" stroke-linecap="round" stroke-linejoin="round" opacity="0.9"><path d="M614.2,303.7 C614.7,305.2 617.4,309.6 617.1,312.5 C616.9,315.4 613.4,319.8 612.7,321.2" stroke="#343ca6" stroke-width="3.1"/><path d="M614.2,303.7 C614.7,305.2 617.4,309.6 617.1,312.5 C616.9,315.4 613.4,319.8 612.7,321.2" stroke="#525cc6" stroke-width="1.7"/></g>
<g fill="none" stroke-linecap="round" stroke-linejoin="round" opacity="0.95"><path d="M569.8,220.0 C570.0,222.0 570.0,229.1 571.3,232.2 C572.6,235.2 576.6,235.8 577.4,238.3 C578.2,240.9 575.1,243.4 575.9,247.5 C576.7,251.6 583.5,259.0 582.0,262.8 C580.5,266.6 570.3,267.4 566.7,270.5 C563.1,273.6 561.6,276.9 560.6,281.2 C559.6,285.5 561.1,291.4 560.6,296.5 C560.1,301.6 557.5,306.9 557.5,311.7 C557.5,316.4 560.1,322.8 560.6,325.0" stroke="#343ca6" stroke-width="3.2"/><path d="M569.8,220.0 C570.0,222.0 570.0,229.1 571.3,232.2 C572.6,235.2 576.6,235.8 577.4,238.3 C578.2,240.9 575.1,243.4 575.9,247.5 C576.7,251.6 583.5,259.0 582.0,262.8 C580.5,266.6 570.3,267.4 566.7,270.5 C563.1,273.6 561.6,276.9 560.6,281.2 C559.6,285.5 561.1,291.4 560.6,296.5 C560.1,301.6 557.5,306.9 557.5,311.7 C557.5,316.4 560.1,322.8 560.6,325.0" stroke="#525cc6" stroke-width="1.8"/></g>
<g fill="none" stroke-linecap="round" stroke-linejoin="round"><path d="M503.6,267.2 C502.2,267.8 497.2,268.9 494.9,271.0 C492.6,273.1 490.6,276.5 490.0,279.6 C489.4,282.7 490.0,286.8 491.2,289.5 C492.4,292.2 496.4,294.7 497.4,295.7" stroke="#000096" stroke-width="4.4"/><path d="M503.6,267.2 C502.2,267.8 497.2,268.9 494.9,271.0 C492.6,273.1 490.6,276.5 490.0,279.6 C489.4,282.7 490.0,286.8 491.2,289.5 C492.4,292.2 496.4,294.7 497.4,295.7" stroke="#1024e4" stroke-width="2.7"/><path d="M503.6,267.2 C502.2,267.8 497.2,268.9 494.9,271.0 C492.6,273.1 490.6,276.5 490.0,279.6 C489.4,282.7 490.0,286.8 491.2,289.5 C492.4,292.2 496.4,294.7 497.4,295.7" stroke="#5a70ff" stroke-width="0.9" transform="translate(-0.53,-0.62)" opacity="0.8"/></g>
<g fill="none" stroke-linecap="round" stroke-linejoin="round"><path d="M513.0,270.0 C513.5,271.0 515.2,274.3 516.0,276.0 C516.8,277.7 517.7,279.3 518.0,280.0" stroke="#000096" stroke-width="4.8"/><path d="M513.0,270.0 C513.5,271.0 515.2,274.3 516.0,276.0 C516.8,277.7 517.7,279.3 518.0,280.0" stroke="#1024e4" stroke-width="3.0"/><path d="M513.0,270.0 C513.5,271.0 515.2,274.3 516.0,276.0 C516.8,277.7 517.7,279.3 518.0,280.0" stroke="#5a70ff" stroke-width="1.0" transform="translate(-0.58,-0.68)" opacity="0.8"/></g>
<g fill="none" stroke-linecap="round" stroke-linejoin="round"><path d="M494.5,318.0 L500.0,313.5" stroke="#000096" stroke-width="4.2"/><path d="M494.5,318.0 L500.0,313.5" stroke="#1024e4" stroke-width="2.6"/><path d="M494.5,318.0 L500.0,313.5" stroke="#5a70ff" stroke-width="0.8" transform="translate(-0.50,-0.59)" opacity="0.8"/></g>
<g fill="none" stroke-linecap="round" stroke-linejoin="round"><path d="M518.0,313.0 C518.7,314.0 521.5,316.7 522.0,319.0 C522.5,321.3 521.2,325.7 521.0,327.0" stroke="#000096" stroke-width="4.0"/><path d="M518.0,313.0 C518.7,314.0 521.5,316.7 522.0,319.0 C522.5,321.3 521.2,325.7 521.0,327.0" stroke="#1024e4" stroke-width="2.5"/><path d="M518.0,313.0 C518.7,314.0 521.5,316.7 522.0,319.0 C522.5,321.3 521.2,325.7 521.0,327.0" stroke="#5a70ff" stroke-width="0.8" transform="translate(-0.48,-0.55)" opacity="0.8"/></g>
<g fill="none" stroke-linecap="round" stroke-linejoin="round"><path d="M519.0,299.0 C520.5,300.5 525.3,304.8 528.0,308.0 C530.7,311.2 533.3,314.8 535.0,318.0 C536.7,321.2 537.5,325.5 538.0,327.0" stroke="#000096" stroke-width="4.0"/><path d="M519.0,299.0 C520.5,300.5 525.3,304.8 528.0,308.0 C530.7,311.2 533.3,314.8 535.0,318.0 C536.7,321.2 537.5,325.5 538.0,327.0" stroke="#1024e4" stroke-width="2.5"/><path d="M519.0,299.0 C520.5,300.5 525.3,304.8 528.0,308.0 C530.7,311.2 533.3,314.8 535.0,318.0 C536.7,321.2 537.5,325.5 538.0,327.0" stroke="#5a70ff" stroke-width="0.8" transform="translate(-0.48,-0.55)" opacity="0.8"/></g>
<g fill="none" stroke-linecap="round" stroke-linejoin="round"><path d="M504.0,316.0 C505.3,315.0 508.5,311.7 512.0,310.0 C515.5,308.3 521.2,306.3 525.0,306.0 C528.8,305.7 532.3,306.5 535.0,308.0 C537.7,309.5 539.7,311.8 541.0,315.0 C542.3,318.2 542.7,325.0 543.0,327.0" stroke="#0060b0" stroke-width="7.0"/><path d="M504.0,316.0 C505.3,315.0 508.5,311.7 512.0,310.0 C515.5,308.3 521.2,306.3 525.0,306.0 C528.8,305.7 532.3,306.5 535.0,308.0 C537.7,309.5 539.7,311.8 541.0,315.0 C542.3,318.2 542.7,325.0 543.0,327.0" stroke="#1a90e8" stroke-width="4.4"/><path d="M504.0,316.0 C505.3,315.0 508.5,311.7 512.0,310.0 C515.5,308.3 521.2,306.3 525.0,306.0 C528.8,305.7 532.3,306.5 535.0,308.0 C537.7,309.5 539.7,311.8 541.0,315.0 C542.3,318.2 542.7,325.0 543.0,327.0" stroke="#70c8ff" stroke-width="1.4" transform="translate(-0.84,-0.98)" opacity="0.8"/></g>
<g fill="none" stroke-linecap="round" stroke-linejoin="round"><path d="M522.0,301.0 C520.8,300.2 517.8,297.1 515.0,296.5 C512.2,295.9 507.4,296.1 505.0,297.5 C502.6,298.9 500.8,302.4 500.5,305.0 C500.2,307.6 501.9,311.2 503.0,313.0 C504.1,314.8 506.3,315.1 507.0,315.5" stroke="#0078a8" stroke-width="7.5"/><path d="M522.0,301.0 C520.8,300.2 517.8,297.1 515.0,296.5 C512.2,295.9 507.4,296.1 505.0,297.5 C502.6,298.9 500.8,302.4 500.5,305.0 C500.2,307.6 501.9,311.2 503.0,313.0 C504.1,314.8 506.3,315.1 507.0,315.5" stroke="#18c0ec" stroke-width="4.9"/><path d="M522.0,301.0 C520.8,300.2 517.8,297.1 515.0,296.5 C512.2,295.9 507.4,296.1 505.0,297.5 C502.6,298.9 500.8,302.4 500.5,305.0 C500.2,307.6 501.9,311.2 503.0,313.0 C504.1,314.8 506.3,315.1 507.0,315.5" stroke="#8cf0ff" stroke-width="1.5" transform="translate(-0.90,-1.05)" opacity="0.8"/></g>
<g fill="none" stroke-linecap="round" stroke-linejoin="round"><path d="M596.0,236.0 C596.3,237.5 597.9,241.7 598.0,245.0 C598.1,248.3 597.4,251.8 596.5,256.0 C595.6,260.2 594.1,264.8 592.5,270.0 C590.9,275.2 589.1,282.0 587.0,287.0 C584.9,292.0 582.4,296.4 580.0,300.0 C577.6,303.6 575.3,305.7 572.8,308.7 C570.3,311.7 566.5,316.4 565.2,317.9" stroke="#000096" stroke-width="4.4"/><path d="M596.0,236.0 C596.3,237.5 597.9,241.7 598.0,245.0 C598.1,248.3 597.4,251.8 596.5,256.0 C595.6,260.2 594.1,264.8 592.5,270.0 C590.9,275.2 589.1,282.0 587.0,287.0 C584.9,292.0 582.4,296.4 580.0,300.0 C577.6,303.6 575.3,305.7 572.8,308.7 C570.3,311.7 566.5,316.4 565.2,317.9" stroke="#1024e4" stroke-width="2.7"/><path d="M596.0,236.0 C596.3,237.5 597.9,241.7 598.0,245.0 C598.1,248.3 597.4,251.8 596.5,256.0 C595.6,260.2 594.1,264.8 592.5,270.0 C590.9,275.2 589.1,282.0 587.0,287.0 C584.9,292.0 582.4,296.4 580.0,300.0 C577.6,303.6 575.3,305.7 572.8,308.7 C570.3,311.7 566.5,316.4 565.2,317.9" stroke="#5a70ff" stroke-width="0.9" transform="translate(-0.53,-0.62)" opacity="0.8"/></g>
<g fill="none" stroke-linecap="round" stroke-linejoin="round"><path d="M585.0,258.2 L595.7,256.7" stroke="#000096" stroke-width="4.4"/><path d="M585.0,258.2 L595.7,256.7" stroke="#1024e4" stroke-width="2.7"/><path d="M585.0,258.2 L595.7,256.7" stroke="#5a70ff" stroke-width="0.9" transform="translate(-0.53,-0.62)" opacity="0.8"/></g>
<g fill="none" stroke-linecap="round" stroke-linejoin="round"><path d="M627.3,207.3 C627.1,208.5 626.1,212.3 626.3,214.5 C626.5,216.7 627.2,219.1 628.4,220.6 C629.6,222.1 631.6,222.8 633.5,223.7 C635.4,224.5 638.4,224.8 640.0,225.7 C641.6,226.6 641.5,227.6 643.3,229.4 C645.1,231.2 648.6,233.5 650.6,236.7 C652.6,239.8 654.8,245.4 655.0,248.3 C655.2,251.2 654.1,253.2 652.1,254.2 C650.1,255.2 646.7,254.9 643.3,254.2 C639.9,253.5 634.5,250.3 631.6,249.8 C628.7,249.3 626.3,249.5 625.8,251.2 C625.3,252.9 627.0,257.3 628.7,260.0 C630.4,262.7 634.5,264.9 636.0,267.3 C637.5,269.7 638.2,272.7 637.5,274.6 C636.8,276.5 634.5,278.4 631.6,278.9 C628.7,279.4 623.1,277.7 620.0,277.5 C616.9,277.3 613.4,276.5 612.7,277.5 C612.0,278.5 613.9,281.4 615.6,283.3 C617.3,285.2 621.2,286.7 622.9,289.1 C624.6,291.5 625.8,295.5 625.8,297.9 C625.8,300.3 624.8,303.0 622.9,303.7 C621.0,304.4 617.6,303.3 614.2,302.3 C610.8,301.3 605.2,298.9 602.5,297.9 C599.8,296.9 598.4,295.7 598.1,296.4 C597.9,297.1 598.8,300.6 601.0,302.3 C603.2,304.0 608.3,305.2 611.2,306.6 C614.1,308.1 616.8,309.1 618.5,311.0 C620.2,312.9 621.4,315.8 621.4,318.3 C621.4,320.8 619.0,324.7 618.5,326.0" stroke="#000096" stroke-width="4.4"/><path d="M627.3,207.3 C627.1,208.5 626.1,212.3 626.3,214.5 C626.5,216.7 627.2,219.1 628.4,220.6 C629.6,222.1 631.6,222.8 633.5,223.7 C635.4,224.5 638.4,224.8 640.0,225.7 C641.6,226.6 641.5,227.6 643.3,229.4 C645.1,231.2 648.6,233.5 650.6,236.7 C652.6,239.8 654.8,245.4 655.0,248.3 C655.2,251.2 654.1,253.2 652.1,254.2 C650.1,255.2 646.7,254.9 643.3,254.2 C639.9,253.5 634.5,250.3 631.6,249.8 C628.7,249.3 626.3,249.5 625.8,251.2 C625.3,252.9 627.0,257.3 628.7,260.0 C630.4,262.7 634.5,264.9 636.0,267.3 C637.5,269.7 638.2,272.7 637.5,274.6 C636.8,276.5 634.5,278.4 631.6,278.9 C628.7,279.4 623.1,277.7 620.0,277.5 C616.9,277.3 613.4,276.5 612.7,277.5 C612.0,278.5 613.9,281.4 615.6,283.3 C617.3,285.2 621.2,286.7 622.9,289.1 C624.6,291.5 625.8,295.5 625.8,297.9 C625.8,300.3 624.8,303.0 622.9,303.7 C621.0,304.4 617.6,303.3 614.2,302.3 C610.8,301.3 605.2,298.9 602.5,297.9 C599.8,296.9 598.4,295.7 598.1,296.4 C597.9,297.1 598.8,300.6 601.0,302.3 C603.2,304.0 608.3,305.2 611.2,306.6 C614.1,308.1 616.8,309.1 618.5,311.0 C620.2,312.9 621.4,315.8 621.4,318.3 C621.4,320.8 619.0,324.7 618.5,326.0" stroke="#1024e4" stroke-width="2.7"/><path d="M627.3,207.3 C627.1,208.5 626.1,212.3 626.3,214.5 C626.5,216.7 627.2,219.1 628.4,220.6 C629.6,222.1 631.6,222.8 633.5,223.7 C635.4,224.5 638.4,224.8 640.0,225.7 C641.6,226.6 641.5,227.6 643.3,229.4 C645.1,231.2 648.6,233.5 650.6,236.7 C652.6,239.8 654.8,245.4 655.0,248.3 C655.2,251.2 654.1,253.2 652.1,254.2 C650.1,255.2 646.7,254.9 643.3,254.2 C639.9,253.5 634.5,250.3 631.6,249.8 C628.7,249.3 626.3,249.5 625.8,251.2 C625.3,252.9 627.0,257.3 628.7,260.0 C630.4,262.7 634.5,264.9 636.0,267.3 C637.5,269.7 638.2,272.7 637.5,274.6 C636.8,276.5 634.5,278.4 631.6,278.9 C628.7,279.4 623.1,277.7 620.0,277.5 C616.9,277.3 613.4,276.5 612.7,277.5 C612.0,278.5 613.9,281.4 615.6,283.3 C617.3,285.2 621.2,286.7 622.9,289.1 C624.6,291.5 625.8,295.5 625.8,297.9 C625.8,300.3 624.8,303.0 622.9,303.7 C621.0,304.4 617.6,303.3 614.2,302.3 C610.8,301.3 605.2,298.9 602.5,297.9 C599.8,296.9 598.4,295.7 598.1,296.4 C597.9,297.1 598.8,300.6 601.0,302.3 C603.2,304.0 608.3,305.2 611.2,306.6 C614.1,308.1 616.8,309.1 618.5,311.0 C620.2,312.9 621.4,315.8 621.4,318.3 C621.4,320.8 619.0,324.7 618.5,326.0" stroke="#5a70ff" stroke-width="0.9" transform="translate(-0.53,-0.62)" opacity="0.8"/></g>
<g fill="none" stroke-linecap="round" stroke-linejoin="round"><path d="M578.4,233.9 C579.4,234.4 582.5,236.9 584.5,236.9 C586.5,236.9 589.8,235.4 590.6,233.9 C591.5,232.4 589.1,229.7 589.6,227.8 C590.1,225.9 591.5,223.7 593.7,222.7 C595.9,221.7 600.4,221.1 602.9,221.6 C605.4,222.1 608.1,224.0 609.0,225.7 C609.9,227.4 609.2,230.3 608.0,231.8 C606.8,233.3 603.8,234.2 601.8,234.9 C599.8,235.6 597.2,235.4 595.7,235.9 C594.2,236.4 592.7,236.8 592.7,238.0 C592.7,239.2 594.4,241.9 595.7,243.1 C597.1,244.3 599.6,243.8 600.8,245.1 C602.0,246.4 603.1,249.5 602.9,251.2 C602.7,252.9 601.8,254.3 599.8,255.3 C597.8,256.3 592.8,256.5 590.6,257.3 C588.4,258.1 587.2,259.6 586.5,260.0" stroke="#000096" stroke-width="4.4"/><path d="M578.4,233.9 C579.4,234.4 582.5,236.9 584.5,236.9 C586.5,236.9 589.8,235.4 590.6,233.9 C591.5,232.4 589.1,229.7 589.6,227.8 C590.1,225.9 591.5,223.7 593.7,222.7 C595.9,221.7 600.4,221.1 602.9,221.6 C605.4,222.1 608.1,224.0 609.0,225.7 C609.9,227.4 609.2,230.3 608.0,231.8 C606.8,233.3 603.8,234.2 601.8,234.9 C599.8,235.6 597.2,235.4 595.7,235.9 C594.2,236.4 592.7,236.8 592.7,238.0 C592.7,239.2 594.4,241.9 595.7,243.1 C597.1,244.3 599.6,243.8 600.8,245.1 C602.0,246.4 603.1,249.5 602.9,251.2 C602.7,252.9 601.8,254.3 599.8,255.3 C597.8,256.3 592.8,256.5 590.6,257.3 C588.4,258.1 587.2,259.6 586.5,260.0" stroke="#1024e4" stroke-width="2.7"/><path d="M578.4,233.9 C579.4,234.4 582.5,236.9 584.5,236.9 C586.5,236.9 589.8,235.4 590.6,233.9 C591.5,232.4 589.1,229.7 589.6,227.8 C590.1,225.9 591.5,223.7 593.7,222.7 C595.9,221.7 600.4,221.1 602.9,221.6 C605.4,222.1 608.1,224.0 609.0,225.7 C609.9,227.4 609.2,230.3 608.0,231.8 C606.8,233.3 603.8,234.2 601.8,234.9 C599.8,235.6 597.2,235.4 595.7,235.9 C594.2,236.4 592.7,236.8 592.7,238.0 C592.7,239.2 594.4,241.9 595.7,243.1 C597.1,244.3 599.6,243.8 600.8,245.1 C602.0,246.4 603.1,249.5 602.9,251.2 C602.7,252.9 601.8,254.3 599.8,255.3 C597.8,256.3 592.8,256.5 590.6,257.3 C588.4,258.1 587.2,259.6 586.5,260.0" stroke="#5a70ff" stroke-width="0.9" transform="translate(-0.53,-0.62)" opacity="0.8"/></g>
<g fill="none" stroke-linecap="round" stroke-linejoin="round"><path d="M590.6,233.9 C590.4,235.1 589.1,238.8 589.6,241.0 C590.1,243.2 592.3,245.4 593.7,247.1 C595.1,248.8 597.1,250.5 597.8,251.2" stroke="#000096" stroke-width="4.2"/><path d="M590.6,233.9 C590.4,235.1 589.1,238.8 589.6,241.0 C590.1,243.2 592.3,245.4 593.7,247.1 C595.1,248.8 597.1,250.5 597.8,251.2" stroke="#1024e4" stroke-width="2.6"/><path d="M590.6,233.9 C590.4,235.1 589.1,238.8 589.6,241.0 C590.1,243.2 592.3,245.4 593.7,247.1 C595.1,248.8 597.1,250.5 597.8,251.2" stroke="#5a70ff" stroke-width="0.8" transform="translate(-0.50,-0.59)" opacity="0.8"/></g>
<g fill="none" stroke-linecap="round" stroke-linejoin="round"><path d="M578.4,233.9 C577.9,232.4 576.0,228.3 575.3,224.7 C574.5,221.1 573.9,216.0 573.9,212.4 C573.9,208.8 574.2,205.7 575.3,203.3 C576.4,200.9 578.2,199.2 580.4,198.2 C582.6,197.2 585.7,197.1 588.6,197.1 C591.5,197.1 595.4,198.2 597.8,198.2 C600.2,198.2 601.4,196.8 602.9,197.1 C604.4,197.4 605.9,198.3 606.9,200.2 C607.9,202.1 607.8,206.5 609.0,208.4 C610.2,210.3 612.1,211.1 614.1,211.4 C616.1,211.7 619.3,211.1 621.2,210.4 C623.1,209.7 624.1,208.5 625.3,207.3 C626.5,206.1 627.4,203.8 628.4,203.3 C629.4,202.8 630.6,204.1 631.0,204.3" stroke="#000096" stroke-width="4.6"/><path d="M578.4,233.9 C577.9,232.4 576.0,228.3 575.3,224.7 C574.5,221.1 573.9,216.0 573.9,212.4 C573.9,208.8 574.2,205.7 575.3,203.3 C576.4,200.9 578.2,199.2 580.4,198.2 C582.6,197.2 585.7,197.1 588.6,197.1 C591.5,197.1 595.4,198.2 597.8,198.2 C600.2,198.2 601.4,196.8 602.9,197.1 C604.4,197.4 605.9,198.3 606.9,200.2 C607.9,202.1 607.8,206.5 609.0,208.4 C610.2,210.3 612.1,211.1 614.1,211.4 C616.1,211.7 619.3,211.1 621.2,210.4 C623.1,209.7 624.1,208.5 625.3,207.3 C626.5,206.1 627.4,203.8 628.4,203.3 C629.4,202.8 630.6,204.1 631.0,204.3" stroke="#1024e4" stroke-width="2.9"/><path d="M578.4,233.9 C577.9,232.4 576.0,228.3 575.3,224.7 C574.5,221.1 573.9,216.0 573.9,212.4 C573.9,208.8 574.2,205.7 575.3,203.3 C576.4,200.9 578.2,199.2 580.4,198.2 C582.6,197.2 585.7,197.1 588.6,197.1 C591.5,197.1 595.4,198.2 597.8,198.2 C600.2,198.2 601.4,196.8 602.9,197.1 C604.4,197.4 605.9,198.3 606.9,200.2 C607.9,202.1 607.8,206.5 609.0,208.4 C610.2,210.3 612.1,211.1 614.1,211.4 C616.1,211.7 619.3,211.1 621.2,210.4 C623.1,209.7 624.1,208.5 625.3,207.3 C626.5,206.1 627.4,203.8 628.4,203.3 C629.4,202.8 630.6,204.1 631.0,204.3" stroke="#5a70ff" stroke-width="0.9" transform="translate(-0.55,-0.65)" opacity="0.8"/></g>
<g fill="none" stroke-linecap="round" stroke-linejoin="round"><path d="M570.0,323.0 C571.7,322.7 576.8,321.2 580.0,321.0 C583.2,320.8 587.5,321.8 589.0,322.0" stroke="#007030" stroke-width="11.0"/><path d="M570.0,323.0 C571.7,322.7 576.8,321.2 580.0,321.0 C583.2,320.8 587.5,321.8 589.0,322.0" stroke="#22d060" stroke-width="8.4"/><path d="M570.0,323.0 C571.7,322.7 576.8,321.2 580.0,321.0 C583.2,320.8 587.5,321.8 589.0,322.0" stroke="#90ffb0" stroke-width="2.2" transform="translate(-1.32,-1.54)" opacity="0.5"/></g>
<circle cx="628" cy="323" r="7" fill="none" stroke="#0a6e98" stroke-width="5"/><circle cx="628" cy="323" r="7" fill="none" stroke="#20a8d8" stroke-width="2.6"/>
<g fill="none" stroke-linecap="round" stroke-linejoin="round"><path d="M508.0,228.0 C511.7,228.5 522.8,231.3 530.0,231.0 C537.2,230.7 547.5,226.8 551.0,226.0" stroke="#007030" stroke-width="9.5"/><path d="M508.0,228.0 C511.7,228.5 522.8,231.3 530.0,231.0 C537.2,230.7 547.5,226.8 551.0,226.0" stroke="#22d060" stroke-width="6.9"/><path d="M508.0,228.0 C511.7,228.5 522.8,231.3 530.0,231.0 C537.2,230.7 547.5,226.8 551.0,226.0" stroke="#90ffb0" stroke-width="1.9" transform="translate(-1.14,-1.33)" opacity="0.5"/></g>
<g fill="none" stroke-linecap="round" stroke-linejoin="round"><path d="M541.0,229.0 C539.2,230.2 533.7,233.7 530.0,236.0 C526.3,238.3 521.4,241.0 519.0,243.0 C516.6,245.0 516.1,247.2 515.5,248.0" stroke="#007030" stroke-width="11.0"/><path d="M541.0,229.0 C539.2,230.2 533.7,233.7 530.0,236.0 C526.3,238.3 521.4,241.0 519.0,243.0 C516.6,245.0 516.1,247.2 515.5,248.0" stroke="#22d060" stroke-width="8.4"/><path d="M541.0,229.0 C539.2,230.2 533.7,233.7 530.0,236.0 C526.3,238.3 521.4,241.0 519.0,243.0 C516.6,245.0 516.1,247.2 515.5,248.0" stroke="#90ffb0" stroke-width="2.2" transform="translate(-1.32,-1.54)" opacity="0.5"/></g>
<g fill="none" stroke-linecap="round" stroke-linejoin="round"><path d="M515.5,248.5 C516.2,249.2 517.4,251.9 520.0,253.0 C522.6,254.1 527.5,254.5 531.0,255.0 C534.5,255.5 538.5,255.2 541.0,256.0 C543.5,256.8 545.2,259.3 546.0,260.0" stroke="#008050" stroke-width="10.5"/><path d="M515.5,248.5 C516.2,249.2 517.4,251.9 520.0,253.0 C522.6,254.1 527.5,254.5 531.0,255.0 C534.5,255.5 538.5,255.2 541.0,256.0 C543.5,256.8 545.2,259.3 546.0,260.0" stroke="#20d890" stroke-width="7.9"/><path d="M515.5,248.5 C516.2,249.2 517.4,251.9 520.0,253.0 C522.6,254.1 527.5,254.5 531.0,255.0 C534.5,255.5 538.5,255.2 541.0,256.0 C543.5,256.8 545.2,259.3 546.0,260.0" stroke="#90ffd0" stroke-width="2.1" transform="translate(-1.26,-1.47)" opacity="0.5"/></g>
<g fill="none" stroke-linecap="round" stroke-linejoin="round"><path d="M546.0,261.0 C545.7,262.0 545.8,265.5 544.0,267.0 C542.2,268.5 538.2,269.2 535.0,270.0 C531.8,270.8 527.5,271.0 525.0,272.0 C522.5,273.0 520.7,274.7 520.0,276.0 C519.3,277.3 520.8,279.3 521.0,280.0" stroke="#007030" stroke-width="10.5"/><path d="M546.0,261.0 C545.7,262.0 545.8,265.5 544.0,267.0 C542.2,268.5 538.2,269.2 535.0,270.0 C531.8,270.8 527.5,271.0 525.0,272.0 C522.5,273.0 520.7,274.7 520.0,276.0 C519.3,277.3 520.8,279.3 521.0,280.0" stroke="#22d060" stroke-width="7.9"/><path d="M546.0,261.0 C545.7,262.0 545.8,265.5 544.0,267.0 C542.2,268.5 538.2,269.2 535.0,270.0 C531.8,270.8 527.5,271.0 525.0,272.0 C522.5,273.0 520.7,274.7 520.0,276.0 C519.3,277.3 520.8,279.3 521.0,280.0" stroke="#90ffb0" stroke-width="2.1" transform="translate(-1.26,-1.47)" opacity="0.5"/></g>
<g fill="none" stroke-linecap="round" stroke-linejoin="round"><path d="M533.0,205.0 C533.0,202.8 532.2,195.2 533.0,192.0 C533.8,188.8 535.8,186.9 538.0,185.5 C540.2,184.1 544.7,183.8 546.0,183.5" stroke="#008050" stroke-width="10.0"/><path d="M533.0,205.0 C533.0,202.8 532.2,195.2 533.0,192.0 C533.8,188.8 535.8,186.9 538.0,185.5 C540.2,184.1 544.7,183.8 546.0,183.5" stroke="#20d890" stroke-width="7.4"/><path d="M533.0,205.0 C533.0,202.8 532.2,195.2 533.0,192.0 C533.8,188.8 535.8,186.9 538.0,185.5 C540.2,184.1 544.7,183.8 546.0,183.5" stroke="#90ffd0" stroke-width="2.0" transform="translate(-1.20,-1.40)" opacity="0.5"/></g>
<g fill="none" stroke-linecap="round" stroke-linejoin="round"><path d="M546.0,183.5 C547.3,184.0 551.9,184.6 554.0,186.5 C556.1,188.4 558.0,192.1 558.5,195.0 C559.0,197.9 558.2,201.5 557.0,204.0 C555.8,206.5 552.0,209.0 551.0,210.0" stroke="#007030" stroke-width="10.0"/><path d="M546.0,183.5 C547.3,184.0 551.9,184.6 554.0,186.5 C556.1,188.4 558.0,192.1 558.5,195.0 C559.0,197.9 558.2,201.5 557.0,204.0 C555.8,206.5 552.0,209.0 551.0,210.0" stroke="#22d060" stroke-width="7.4"/><path d="M546.0,183.5 C547.3,184.0 551.9,184.6 554.0,186.5 C556.1,188.4 558.0,192.1 558.5,195.0 C559.0,197.9 558.2,201.5 557.0,204.0 C555.8,206.5 552.0,209.0 551.0,210.0" stroke="#90ffb0" stroke-width="2.0" transform="translate(-1.20,-1.40)" opacity="0.5"/></g>
<g fill="none" stroke-linecap="round" stroke-linejoin="round"><path d="M529.0,203.0 C530.3,202.8 534.2,201.3 537.0,201.5 C539.8,201.7 544.5,203.6 546.0,204.0" stroke="#1a5a48" stroke-width="8.0"/><path d="M529.0,203.0 C530.3,202.8 534.2,201.3 537.0,201.5 C539.8,201.7 544.5,203.6 546.0,204.0" stroke="#2a8a70" stroke-width="5.4"/></g>
<g fill="none" stroke-linecap="round" stroke-linejoin="round"><path d="M514.5,210.0 C513.8,211.7 510.9,216.8 510.0,220.0 C509.1,223.2 509.2,227.5 509.0,229.0" stroke="#006a00" stroke-width="12.0"/><path d="M514.5,210.0 C513.8,211.7 510.9,216.8 510.0,220.0 C509.1,223.2 509.2,227.5 509.0,229.0" stroke="#18c818" stroke-width="9.4"/><path d="M514.5,210.0 C513.8,211.7 510.9,216.8 510.0,220.0 C509.1,223.2 509.2,227.5 509.0,229.0" stroke="#8cff8c" stroke-width="2.2" transform="translate(-1.44,-1.68)" opacity="0.5"/></g>
<g fill="none" stroke-linecap="round" stroke-linejoin="round"><path d="M531.0,220.0 C532.8,219.9 539.1,220.3 542.0,219.5 C544.9,218.7 547.2,216.6 548.5,215.0 C549.8,213.4 549.3,210.8 549.5,210.0" stroke="#8a4a00" stroke-width="14.5"/><path d="M531.0,220.0 C532.8,219.9 539.1,220.3 542.0,219.5 C544.9,218.7 547.2,216.6 548.5,215.0 C549.8,213.4 549.3,210.8 549.5,210.0" stroke="#ee9010" stroke-width="11.9"/><path d="M531.0,220.0 C532.8,219.9 539.1,220.3 542.0,219.5 C544.9,218.7 547.2,216.6 548.5,215.0 C549.8,213.4 549.3,210.8 549.5,210.0" stroke="#ffd080" stroke-width="2.2" transform="translate(-1.74,-2.03)" opacity="0.5"/></g>
<g fill="none" stroke-linecap="round" stroke-linejoin="round"><path d="M524.0,207.0 C523.2,208.0 519.7,210.9 519.5,213.0 C519.3,215.1 520.9,218.2 523.0,219.5 C525.1,220.8 530.5,220.8 532.0,221.0" stroke="#7a0000" stroke-width="15.0"/><path d="M524.0,207.0 C523.2,208.0 519.7,210.9 519.5,213.0 C519.3,215.1 520.9,218.2 523.0,219.5 C525.1,220.8 530.5,220.8 532.0,221.0" stroke="#ee0000" stroke-width="12.4"/><path d="M524.0,207.0 C523.2,208.0 519.7,210.9 519.5,213.0 C519.3,215.1 520.9,218.2 523.0,219.5 C525.1,220.8 530.5,220.8 532.0,221.0" stroke="#ff7070" stroke-width="2.2" transform="translate(-1.80,-2.10)" opacity="0.5"/></g></g>

<g stroke="#626262" stroke-width="1" fill="none" shape-rendering="auto">
<line x1="54.5" y1="32.1" x2="54.5" y2="158.9" />
<line x1="46" y1="158.9" x2="451.5" y2="158.9" />
<line x1="46.5" y1="158.90" x2="54.5" y2="158.90" />
<line x1="46.5" y1="137.77" x2="54.5" y2="137.77" />
<line x1="46.5" y1="116.64" x2="54.5" y2="116.64" />
<line x1="46.5" y1="95.51" x2="54.5" y2="95.51" />
<line x1="46.5" y1="74.38" x2="54.5" y2="74.38" />
<line x1="46.5" y1="53.25" x2="54.5" y2="53.25" />
<line x1="46.5" y1="32.12" x2="54.5" y2="32.12" />
<line x1="50.5" y1="148.34" x2="54.5" y2="148.34" />
<line x1="50.5" y1="127.21" x2="54.5" y2="127.21" />
<line x1="50.5" y1="106.08" x2="54.5" y2="106.08" />
<line x1="50.5" y1="84.95" x2="54.5" y2="84.95" />
<line x1="50.5" y1="63.82" x2="54.5" y2="63.82" />
<line x1="50.5" y1="42.69" x2="54.5" y2="42.69" />
<line x1="61.30" y1="158.9" x2="61.30" y2="166.9" />
<line x1="96.76" y1="158.9" x2="96.76" y2="162.9" />
<line x1="132.22" y1="158.9" x2="132.22" y2="166.9" />
<line x1="167.68" y1="158.9" x2="167.68" y2="162.9" />
<line x1="203.14" y1="158.9" x2="203.14" y2="166.9" />
<line x1="238.60" y1="158.9" x2="238.60" y2="162.9" />
<line x1="274.06" y1="158.9" x2="274.06" y2="166.9" />
<line x1="309.52" y1="158.9" x2="309.52" y2="162.9" />
<line x1="344.98" y1="158.9" x2="344.98" y2="166.9" />
<line x1="380.44" y1="158.9" x2="380.44" y2="162.9" />
<line x1="415.90" y1="158.9" x2="415.90" y2="166.9" />
<line x1="451.36" y1="158.9" x2="451.36" y2="162.9" />
<line x1="54.5" y1="184.4" x2="54.5" y2="311.0" />
<line x1="46" y1="311.0" x2="451.5" y2="311.0" />
<line x1="46.5" y1="311.00" x2="54.5" y2="311.00" />
<line x1="46.5" y1="289.90" x2="54.5" y2="289.90" />
<line x1="46.5" y1="268.80" x2="54.5" y2="268.80" />
<line x1="46.5" y1="247.70" x2="54.5" y2="247.70" />
<line x1="46.5" y1="226.60" x2="54.5" y2="226.60" />
<line x1="46.5" y1="205.50" x2="54.5" y2="205.50" />
<line x1="46.5" y1="184.40" x2="54.5" y2="184.40" />
<line x1="50.5" y1="300.45" x2="54.5" y2="300.45" />
<line x1="50.5" y1="279.35" x2="54.5" y2="279.35" />
<line x1="50.5" y1="258.25" x2="54.5" y2="258.25" />
<line x1="50.5" y1="237.15" x2="54.5" y2="237.15" />
<line x1="50.5" y1="216.05" x2="54.5" y2="216.05" />
<line x1="50.5" y1="194.95" x2="54.5" y2="194.95" />
<line x1="61.30" y1="311.0" x2="61.30" y2="319.0" />
<line x1="96.76" y1="311.0" x2="96.76" y2="315.0" />
<line x1="132.22" y1="311.0" x2="132.22" y2="319.0" />
<line x1="167.68" y1="311.0" x2="167.68" y2="315.0" />
<line x1="203.14" y1="311.0" x2="203.14" y2="319.0" />
<line x1="238.60" y1="311.0" x2="238.60" y2="315.0" />
<line x1="274.06" y1="311.0" x2="274.06" y2="319.0" />
<line x1="309.52" y1="311.0" x2="309.52" y2="315.0" />
<line x1="344.98" y1="311.0" x2="344.98" y2="319.0" />
<line x1="380.44" y1="311.0" x2="380.44" y2="315.0" />
<line x1="415.90" y1="311.0" x2="415.90" y2="319.0" />
<line x1="451.36" y1="311.0" x2="451.36" y2="315.0" />
</g>
<g font-family="Liberation Serif" font-size="11.4" fill="#1a1a1a" stroke="#1a1a1a" stroke-width="0.12">
<text x="42.5" y="162.50" text-anchor="end">0</text>
<text x="42.5" y="141.37" text-anchor="end">0.1</text>
<text x="42.5" y="120.24" text-anchor="end">0.2</text>
<text x="42.5" y="99.11" text-anchor="end">0.3</text>
<text x="42.5" y="77.98" text-anchor="end">0.4</text>
<text x="42.5" y="56.85" text-anchor="end">0.5</text>
<text x="42.5" y="35.72" text-anchor="end">0.6</text>
<text x="42.5" y="314.60" text-anchor="end">0</text>
<text x="42.5" y="293.50" text-anchor="end">0.1</text>
<text x="42.5" y="272.40" text-anchor="end">0.2</text>
<text x="42.5" y="251.30" text-anchor="end">0.3</text>
<text x="42.5" y="230.20" text-anchor="end">0.4</text>
<text x="42.5" y="209.10" text-anchor="end">0.5</text>
<text x="42.5" y="188.00" text-anchor="end">0.6</text>
</g>
<g font-family="Liberation Serif" font-size="11.4" fill="#1a1a1a" stroke="#1a1a1a" stroke-width="0.12" text-anchor="middle">
<text x="61.30" y="331">0</text>
<text x="132.22" y="331">50</text>
<text x="203.14" y="331">100</text>
<text x="274.06" y="331">150</text>
<text x="344.98" y="331">200</text>
<text x="415.90" y="331">250</text>
</g>


<g fill="none" stroke-width="1.4" stroke-linejoin="round">
<polyline points="62.7,97.3 65.2,152 67.2,149.5 68.7,149 70.5,151 73,154.5 75.3,157.4 77,154 79,147 81,142.3 83,143 85,145 87,147 88.6,148.5 92.7,146.2 93.5,147 95,150 96.5,151 98.3,149.3 100,150 101.5,152 103.9,149.2 106,150 107.5,155 110,156.1 113,156.5 114,155 116,147 118.3,137.3 120.9,141.9 123,141 125,141.8 126.5,143.9 128.1,142.3 129.6,140.8 131.1,144.9 132.7,146.9 134.7,145.4 136.2,146.4 137.8,146.9 139.3,149 141.3,152 143.4,155.1 144.9,154.1 146.4,149 148,143.4 149.5,138.8 150.5,139.3 151.7,143.4 153.1,139.8 154.6,136.7 156.1,135.7 157.7,133.7 159.2,137.8 160.2,139.3 161.5,135.7 163.3,141.3 165,144.9 166.8,147.2 168.8,142.6 170.8,146.5 173.4,140.6 174.4,144.3 177,141 179.2,136.3 181,140 183.2,145.9 185,150 187,155 188,157.1 190,155 192,148 194.4,140 197.4,139.5 199,138.7 200.6,130.7 202.7,121 204.6,111.4 206.2,119.4 207.8,130.7 209.4,131.5 211,139.5 212.7,130.7 214.6,120.2 216.2,127.5 217.8,126.7 219.9,127.5 221.5,127.5 223.1,137.1 224.7,151.5 226.3,145.1 227.9,133.1 229,133.9 230.6,153.2 232.2,140.3 233.5,121 235,124.3 236.4,129 239,128 240,135 242,142.7 243.6,141 246.8,140.6 249,145 250.5,143 252,147 253,144 255,149 256.5,147.5 259,153 261,155 262,153.5 264.5,156.3 266,155 267.4,148.3 269,150.5 271,151 273,146.7 275.4,141.9 277,139.5 278.6,145.1 280,142 281.8,138.7 284,143.5 286,140 288.2,138.7 289.8,146.7 290.6,141 292.5,150 293.8,152.3 296,148 297,145.9 300,148 302,148 304,150 306,148 308,152 309.9,152.3 312,150 313.1,145.9 314.7,152.8 317,150 318.5,144.2 320,148 322,150 323.3,155.6 326,154 328,152 330,151 332,154 333.7,148 335,137.6 337,125 338.4,119.6 340.7,102.6 342,115 343.5,123.4 345,112 346.7,108.3 349,112 350.2,110.2 352,109 353.6,124.4 354.9,131.9 357.7,120.6 360.6,119.6 363.4,134.8 366.3,128.1 369.1,141.4 371.9,145.2 374.8,148 377.6,146.1 380.5,150.9 383.3,151.8 386.1,149.9 389,144.2 391.8,145.2 393.5,146 395.7,151.8 398.5,147.1 401.4,150.9 404.2,151.8 407,149.9 409.9,151.8 412.7,149.9 415.6,150.9 418.4,149.9 421.3,153.7 424.1,151.8 426.9,152.8 429.8,150.9 432.6,149.9 435.5,148 438.3,143.3 440.2,146.1 441.5,149" stroke="#12f012"/>
<polyline points="63,133.7 64.5,155 66,151 68,153 70,154 72,155 74,155 76,156 77.5,157.5 79,156 81,153 83,152.5 85,153 87,152 89,153 91,154 93,154.5 95,154 97,154 99,155 101,155 103.5,154 105,153.5 107,155 109,156 112,156 114,155 116,151 118.9,149.4 121,153.5 123,155 125,153.1 127,154.1 128.6,155.6 130.6,154.1 132.1,155.6 134.2,156.1 137.2,156.6 140.3,156.1 143.4,155.6 145.4,154.6 147.4,152.6 149.5,150 151,148 152,145.4 153.1,145.9 154.6,148 156.1,147.4 157.7,148.5 159.7,151 161.7,152 163.3,150 165,149.5 166,151 169,154 172,156 174,157.5 176,155 178.1,153.1 181,154 183,153.5 185,154.5 187,156 188.5,157.5 191,155 193,151 195,143.5 197.4,140.3 199.5,138.7 201.4,135.5 203,136.3 204.6,138.7 206.6,134.7 208.6,129.1 210.2,130.7 211.9,133.1 213.5,133.9 215.5,133.1 217.5,135.5 219.9,138.7 222.3,143.5 224.7,145.1 227.1,147.5 229,146.7 231.1,149.1 233.5,148.3 235,149.9 237,152 238.8,151.5 240,151 242,154 244,155.5 246,155 248,156.5 250,155 252,156 254,155.5 256,154 258,153.5 260,152 262,154 264,156 266,154 268,153.5 270,152 272,146 273.8,136.3 276.2,133.8 278.6,132.2 281,133 282.6,134.6 285,138 286.6,139.5 289,143.5 291,148 293.8,145.1 295,148 296,150 297,151.5 298.7,155.5 301,153 303,155 305,156 307,155.5 309,156.5 311,156.5 313,157 316,155 319,156 322,154 325,154 328,153 329.9,147 332,138 333.7,137.6 335,138.6 337.8,143.3 340.7,144.2 343.5,150.9 345.4,146.1 347.3,138.6 349.2,132.9 351.1,138.6 352.4,131 353.9,137.6 355.8,135.7 357.7,140.5 360.6,138.6 363.4,140.5 366.3,137.6 369.1,136.7 371.9,139.5 374.8,142.3 377.6,140.5 380.5,141.4 383.3,140.5 386.1,144.2 389,145.2 391.8,148 392.8,149.9 395.7,151.8 398.5,150.9 401.4,151.8 404.2,150.9 407,151.8 409.9,150.9 412.3,146.1 414.6,148 417.5,150.9 420.3,149.9 423.1,151.4 426,151.8 427.9,154.7 429.4,149 430.7,144.2 432,146.1 433.6,139.5 435.8,136.7 437,125.3 437.7,110.2 438.5,98.8 440,31.5" stroke="#111"/>
<polyline points="63.3,141.8 65,153 66.5,151 68,154 70,152.5 72,152.5 76,152.5 77,155.5 78.5,157.5 80,155 81,153 82,155 82.5,149.5 84,154 85,151 86,152 88,151 89.5,151 91,152 93,154 95,154.5 97,155 99,154 101,155 103,156 105,156 107,155.5 110,154 112,154 114,153 116,150 118.3,148.9 120,150.5 122.2,153 124,155 125,153.6 127,154.1 128.6,156.1 130.1,153.6 132.1,151.5 133.7,153.1 135.2,155.6 137.2,157.1 139.3,156.6 141.3,155.1 143.4,155.6 145.4,154.1 147.4,152 149.5,150.5 151,149.5 152.6,151.3 154.1,149.5 155.6,148 157.1,149 159.2,150 160.7,151.5 162.8,151 165,152.6 166.2,152.4 168.5,153.5 170.8,152.4 172,152.5 175,152 178,150.5 180,147.5 182,152 184,154 187,155.5 189,157 191,155 193,155.5 195,152.4 197.4,153.2 199.5,156.4 201.4,152.4 203,153.2 204.6,150.7 206.6,154.8 208.2,150.7 209.4,141.1 210.7,149.1 212.3,145.1 213.9,149.9 215.5,143.5 217.2,146.7 219.1,137.9 221,143.5 223.1,149.1 224.7,149.9 226.3,154.8 227.9,153.2 229.5,156.4 231.1,152.4 232.7,155.6 234,149.9 236,153 238,151 240,155.5 242,153.5 244,157 246,156 248,155.5 250,157 252,155.5 254,154.5 256,156 258,155 260,155.5 262,155 264,156 266,155 268,153.5 271,155 273,153 275,150 277,148.5 279.4,147.5 281,148 283,150 285,151.5 287,150 289,153 291,151 293,155 294.5,151 296,147 298,148 299.5,140.3 301.5,147 303.5,146.7 305,152 308.3,156.3 311,154 313.1,153.1 314.5,154.5 316,151 318,152 320.4,149 322,155 324,151 326,151.5 328,152 330,153.5 332,152 334,152.5 336,152 338,153 340.7,151.8 343,148 345.4,138.6 348.3,131.9 349.8,138.6 352,112 353.6,125.3 354.9,138.6 356.8,136.7 358.7,145.2 361.5,143.3 364.4,143.3 367.2,145.2 370,148 371.9,156.6 373.8,149.9 375.7,151.8 378.6,148 381.4,150.9 384.2,147.1 386.1,150.9 389,151.8 391.8,152.3 395.7,153.7 401.4,153.7 407,153.3 409.9,153.7 411.8,151.8 413.1,121.5 414.6,119.6 417.5,122.5 418.8,137.6 420.3,137.6 422.2,138.6 423.7,144.2 425,151.8 427.9,152.8 430.7,151.8 433.6,149.9 436.4,149 438.9,147.1 440.2,149 441.5,155.2" stroke="#f80000"/>
<polyline points="64.5,303.8 66.9,305.2 69.2,303.3 71.5,305.2 74.3,306.1 77.1,305.2 79.9,301.9 82.3,300.5 85.1,298.7 86.9,297.3 88.8,300.1 91.1,304.7 93.4,305.2 96.2,306.1 99,305.7 101.8,305.7 104.6,305.2 107.4,305.7 110.2,305.2 113,304.7 115.8,303.3 117.8,299.6 120.6,296.3 122,298.2 123.9,299.6 126.2,298.7 128.5,300.5 130.9,299.1 133.2,298.2 135.1,301 137.4,301.9 140.2,302.4 143,303.3 145.8,302.4 148.6,301.9 151.4,302.4 154.2,301.9 157,301.5 159.8,301 162.6,301.9 164.4,304.3 166.8,304.7 169.1,303.3 171.4,304.3 173.9,301.6 175.3,303.8 177.1,302.9 179.5,300.5 181.3,302.4 183.2,305.2 186,306.1 188.8,307.5 191.6,307.5 194.4,305.7 196.7,306.6 199.1,307.1 200.9,305.7 203.7,306.6 206.5,307.1 209.3,306.6 212.1,307.5 214.9,307.1 217.7,307.5 220.5,308 223.3,307.5 226.1,308.5 228.9,308 232.7,307.5 236.5,308 240.2,307.5 243.9,308 247.7,308 251.4,307.5 255.1,308 258.9,307.1 262.6,307.5 266.3,308 270,307.1 272.4,303.8 274.7,304.7 276.6,306.6 279.4,307.1 282.2,306.6 285,307.1 289.7,308 293.5,307.5 297.2,307.5 300.9,307.1 304.7,307.1 308.4,307.5 312.1,307.1 315.9,307.1 319.6,307.1 323.3,307.5 327,307.5 330.8,308 332.6,306.1 334.5,304.7 336.8,303.3 338.7,294.9 340.6,290.3 342.3,295.6 344.4,293.5 346.5,293.5 348.6,289.3 350.3,290.3 352.4,284 353.8,291.4 355.3,296.6 356.5,302.9 358,298.7 359.5,300.8 361.2,297.7 362.8,301.8 364.3,297.7 365.8,302.9 367.4,298.7 369.1,302.9 371.2,303.9 373.7,303.9 376.9,305 380,306.7 383.2,307.5 386.3,306.7 389.5,305 393.7,305.7 397.5,306.6 401.2,306.1 404.9,305.7 408.7,305 412.4,305.7 416.1,306.1 419.9,306.6 423.6,307.2 427.3,307.5 431,307.1 434.8,306.6 438.5,306.6 440.8,305.7 441.5,304.7" stroke="#111"/>
<polyline points="64.5,302.4 66.4,303.8 67.8,303.3 69.7,301.5 71.5,303.3 73.9,304.7 76.7,305.7 79,304.3 81.3,300.5 83.7,297.3 85.1,294.5 86.5,295.4 87.9,297.7 90.2,302.9 91.6,304.7 93,302.4 94.8,304.3 97.2,303.3 99.5,304.3 102.3,302.9 104.6,303.3 107,302.9 109.8,302.4 111.6,303.8 114,303.3 115.8,301 117.3,299.1 119.2,296.3 120.6,293.1 121.1,291.7 121.7,295.9 122.9,299.6 125.3,297.3 127.6,299.1 129,297.3 130.9,294.5 133.2,295.9 134.6,297.3 136.5,299.6 139.3,299.1 141.6,300.1 143.9,300.5 146.3,301 148.1,301 150,302.4 151.8,304.7 154.2,303.8 156.5,304.7 158.4,302.4 160.2,303.8 161.6,306.1 163.5,305.2 165.8,305.7 168.2,303.8 171,304.7 174.8,304.7 177.6,304.3 179.9,303.8 182.3,305.2 185.1,306.1 187.9,306.1 190.7,307.1 192.5,306.6 194.4,304.4 196.3,305.2 198.1,306.1 200,303.8 201.4,301 202.8,299.6 204.6,300.1 206.5,297.7 208.8,294.5 210.7,297.7 213,301.5 215.4,302.9 217.7,302.9 220,303.8 222.4,303.3 224.7,304.7 227,305.2 229.4,305.7 232.7,307.1 236.5,306.6 240.2,307.1 243.9,308 247.7,307.5 251.4,307.1 255.1,306.6 257.9,305.7 259.8,304.4 261.6,305.7 264.4,307.1 268.2,307.5 270.5,307.1 271.9,304.7 273.8,300.5 275.6,301 277.5,302.4 279.8,300.3 282.2,301 285,301.9 286,302.4 287.9,302.9 289.7,302.2 291.6,304.4 293.9,302.9 295.8,304.7 297.2,306.6 300,306.6 302.3,307.1 305.1,305.7 307.9,305.7 310.7,304.7 313.1,305.7 315.9,305.2 318.6,305.2 321.4,305.7 324.2,305.7 327,307.5 329.4,306.1 331.7,305.7 334,304.7 336.4,302.4 338.1,292.4 340.2,281.9 342.3,274.6 344.4,270.4 346.5,266.2 348.2,267.3 349.6,256.8 351.1,249.4 352.4,256.8 353.8,265.2 355.3,271.4 357,273.5 358.6,278.8 360.1,284 362.2,285.1 364.3,291.4 366.4,295.6 368.5,298.7 370.6,300.8 372.7,302.5 375.8,303.3 380,303.9 384.2,303.9 388.4,303.9 390,304.7 393.7,305.7 397.5,305.2 401.2,304.7 404.9,305.2 408.7,304.4 412.4,304.3 416.1,305 419.9,304.3 423.6,305 427.3,304.7 430.1,303.8 432.4,303.3 434.3,302.9 435.7,301.9 437.1,304.4 439,302.4 440.8,301.3 441.8,301.5" stroke="#f80000"/>
<polyline points="63.1,289.3 64.7,305.2 66.9,307.5 69.2,304.7 71.5,306.6 74.3,306.6 77.1,304.7 79.5,301 81.8,299.6 84.1,298.7 86.5,298.2 87.9,297.7 89.7,300.5 91.6,303.3 93.4,304.3 95.3,305.2 98.1,305.7 100.9,306.1 103.7,306.6 106.5,306.6 109.3,305.7 112.1,305.2 114.9,303.3 116.9,301.9 119.7,298.7 122.5,300.5 124.8,301.5 126.7,302.9 129,301.5 131.3,300.5 133.7,298.2 136,301 138.8,302.4 142.1,304.7 144.4,305.2 146.7,304.7 149.5,303.3 152.3,301 155.1,299.6 156.5,299.4 158.8,301 161.6,302.9 164.4,304.3 167.2,305.2 170,306.1 172.4,305.7 174.8,305.2 177.1,304.7 179,303.3 180.9,305.2 183.2,306.1 186,307.1 188.8,307.5 191.6,307.5 193,303.3 194.9,301.5 196.4,299.1 198.1,301 200,302.4 201.4,304.7 203.7,305.7 206.5,305.7 208.8,304.4 211.2,306.1 214,307.1 216.8,307.1 219.6,307.5 222.4,305.2 224.7,307.1 227.5,304.7 229.8,306.1 231.8,307.1 234.6,306.6 237.4,307.5 241.1,306.6 244.9,308 248.6,307.5 252.3,308 256,307.1 259.8,306.6 263.5,307.1 267.2,307.5 270,307.1 271.4,303.3 273.3,304.7 275.6,306.1 278,307.1 280.8,307.1 284,305.7 286.8,307.1 289.7,307.5 293.5,307.5 297.2,307.1 300.9,306.1 304.7,307.5 308.4,306.6 312.1,307.1 315.9,306.6 319.6,307.1 323.3,307.1 327,308 329.8,307.1 332.6,305.2 335,304.3 336.8,302.4 338.2,297.7 340.2,293.5 342.3,299.7 344.4,300.8 347.5,299.7 350.7,298.7 353.8,298.7 357,300.4 361.2,301.8 365.4,302.9 369.5,303.9 373.7,303.9 377.9,304.6 382.1,305 386.3,304.6 389.5,303.3 392.8,305.2 395.6,306.1 398.4,307.1 401.2,307.8 404.9,307.5 408.7,308 412.4,307.5 416.1,307.1 419.9,307.1 423.6,307.8 427.3,308 431,307.5 434.8,307.1 438.5,306.9 441.3,306.1" stroke="#12f012"/>
</g>

<rect x="199.4" y="29.7" width="43.0" height="129.0" fill="none" stroke="#76e6da" stroke-width="1.25"/>
<rect x="270.6" y="30.0" width="44.599999999999966" height="128.7" fill="none" stroke="#ffb43c" stroke-width="1.25"/>
<rect x="342.5" y="29.4" width="46.0" height="129.29999999999998" fill="none" stroke="#a83ee6" stroke-width="1.25"/>
<rect x="199.4" y="182.6" width="43.0" height="128.70000000000002" fill="none" stroke="#76e6da" stroke-width="1.25"/>
<rect x="270.6" y="182.6" width="44.599999999999966" height="128.70000000000002" fill="none" stroke="#ffb43c" stroke-width="1.25"/>
<rect x="342.5" y="181.6" width="46.0" height="129.70000000000002" fill="none" stroke="#a83ee6" stroke-width="1.25"/>

<g font-family="Liberation Serif" fill="#111">
<text x="0.5" y="18.3" font-size="22" font-weight="bold">A)</text>
<text x="454.3" y="18.2" font-size="22" font-weight="bold">B)</text>
<text x="454" y="189.3" font-size="22" font-weight="bold">C)</text>
<g font-style="italic" font-size="10" stroke="#111" stroke-width="0.1">
<text x="208" y="27.8" font-size="10.5">A-loop</text>
<text x="281" y="27.8" font-size="10.5">B-loop</text>
<text x="357" y="27.8" font-size="10.5">SBL</text>
<text x="61.3" y="36.3" font-size="10.5">Monomer</text>
<text x="59.5" y="190.3" font-size="10.5">Tetramer</text>
<text x="253.5" y="342" font-size="11" text-anchor="middle">Residues</text>
<text transform="translate(17.7,165.6) rotate(-90)" font-size="11.2" text-anchor="middle">RMSF of the first eigenvector (nm)</text>
</g>
<g font-style="italic" font-weight="bold" font-size="14.5">
<text x="498" y="16.3" font-size="15" letter-spacing="0.5">SBL</text>
<text x="574" y="10.5">B-loop</text>
<text x="644" y="43.6">A-loop</text>
<text x="498" y="187.8" font-size="15" letter-spacing="0.5">SBL</text>
<text x="574" y="188.7">B-loop</text>
<text x="644" y="222">A-loop</text>
</g>
</g>

</svg>
</body></html>
